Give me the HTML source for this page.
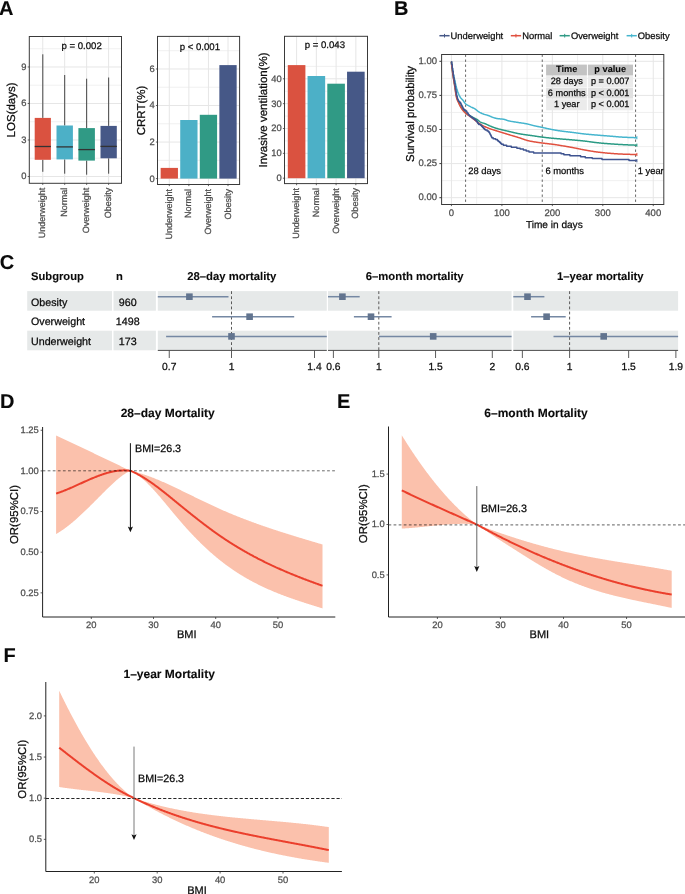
<!DOCTYPE html>
<html><head><meta charset="utf-8"><title>Figure</title>
<style>
html,body{margin:0;padding:0;background:#fff;}
body{width:685px;height:894px;overflow:hidden;}
svg{display:block;font-family:"Liberation Sans", sans-serif;will-change:transform;text-rendering:geometricPrecision;}
</style></head>
<body>
<svg width="685" height="894" viewBox="0 0 685 894">
<rect width="685" height="894" fill="#fff"/>
<text x="-1.00" y="14.70" font-size="20" text-anchor="start" font-weight="bold" fill="#0a0a0a" stroke="#0a0a0a" stroke-width="0.1">A</text>
<text x="394.00" y="14.80" font-size="20" text-anchor="start" font-weight="bold" fill="#0a0a0a" stroke="#0a0a0a" stroke-width="0.1">B</text>
<text x="-0.30" y="269.00" font-size="20" text-anchor="start" font-weight="bold" fill="#0a0a0a" stroke="#0a0a0a" stroke-width="0.1">C</text>
<text x="0.00" y="407.80" font-size="20" text-anchor="start" font-weight="bold" fill="#0a0a0a" stroke="#0a0a0a" stroke-width="0.1">D</text>
<text x="337.00" y="407.80" font-size="20" text-anchor="start" font-weight="bold" fill="#0a0a0a" stroke="#0a0a0a" stroke-width="0.1">E</text>
<text x="3.60" y="662.10" font-size="20" text-anchor="start" font-weight="bold" fill="#0a0a0a" stroke="#0a0a0a" stroke-width="0.1">F</text>
<line x1="29.30" y1="158.25" x2="121.50" y2="158.25" stroke="#E6E6E6" stroke-width="0.6"/>
<line x1="29.30" y1="121.73" x2="121.50" y2="121.73" stroke="#E6E6E6" stroke-width="0.6"/>
<line x1="29.30" y1="85.22" x2="121.50" y2="85.22" stroke="#E6E6E6" stroke-width="0.6"/>
<line x1="29.30" y1="48.72" x2="121.50" y2="48.72" stroke="#E6E6E6" stroke-width="0.6"/>
<line x1="29.30" y1="176.50" x2="121.50" y2="176.50" stroke="#E6E6E6" stroke-width="1.0"/>
<line x1="29.30" y1="139.99" x2="121.50" y2="139.99" stroke="#E6E6E6" stroke-width="1.0"/>
<line x1="29.30" y1="103.48" x2="121.50" y2="103.48" stroke="#E6E6E6" stroke-width="1.0"/>
<line x1="29.30" y1="66.97" x2="121.50" y2="66.97" stroke="#E6E6E6" stroke-width="1.0"/>
<line x1="42.75" y1="36.50" x2="42.75" y2="183.30" stroke="#E6E6E6" stroke-width="1.0"/>
<line x1="64.70" y1="36.50" x2="64.70" y2="183.30" stroke="#E6E6E6" stroke-width="1.0"/>
<line x1="86.65" y1="36.50" x2="86.65" y2="183.30" stroke="#E6E6E6" stroke-width="1.0"/>
<line x1="108.60" y1="36.50" x2="108.60" y2="183.30" stroke="#E6E6E6" stroke-width="1.0"/>
<line x1="42.80" y1="54.30" x2="42.80" y2="117.90" stroke="#333" stroke-width="0.9"/>
<line x1="42.80" y1="159.80" x2="42.80" y2="171.80" stroke="#333" stroke-width="0.9"/>
<rect x="34.70" y="117.90" width="16.20" height="41.90" fill="#DA5240"/>
<line x1="34.70" y1="146.50" x2="50.90" y2="146.50" stroke="#333" stroke-width="1.3"/>
<line x1="64.70" y1="75.00" x2="64.70" y2="125.50" stroke="#333" stroke-width="0.9"/>
<line x1="64.70" y1="159.40" x2="64.70" y2="173.70" stroke="#333" stroke-width="0.9"/>
<rect x="56.50" y="125.50" width="16.40" height="33.90" fill="#4CB0C7"/>
<line x1="56.50" y1="146.90" x2="72.90" y2="146.90" stroke="#333" stroke-width="1.3"/>
<line x1="86.65" y1="78.70" x2="86.65" y2="128.10" stroke="#333" stroke-width="0.9"/>
<line x1="86.65" y1="160.60" x2="86.65" y2="174.70" stroke="#333" stroke-width="0.9"/>
<rect x="78.40" y="128.10" width="16.50" height="32.50" fill="#309A85"/>
<line x1="78.40" y1="149.60" x2="94.90" y2="149.60" stroke="#333" stroke-width="1.3"/>
<line x1="108.65" y1="77.50" x2="108.65" y2="125.90" stroke="#333" stroke-width="0.9"/>
<line x1="108.65" y1="158.30" x2="108.65" y2="173.70" stroke="#333" stroke-width="0.9"/>
<rect x="100.50" y="125.90" width="16.30" height="32.40" fill="#465887"/>
<line x1="100.50" y1="146.40" x2="116.80" y2="146.40" stroke="#333" stroke-width="1.3"/>
<rect x="29.30" y="36.50" width="92.20" height="146.80" fill="none" stroke="#3A3A3A" stroke-width="1"/>
<line x1="27.70" y1="176.50" x2="29.30" y2="176.50" stroke="#3A3A3A" stroke-width="0.8"/>
<text x="26.50" y="179.40" font-size="9.4" text-anchor="end" fill="#4D4D4D" stroke="#4D4D4D" stroke-width="0.25">0</text>
<line x1="27.70" y1="139.99" x2="29.30" y2="139.99" stroke="#3A3A3A" stroke-width="0.8"/>
<text x="26.50" y="142.89" font-size="9.4" text-anchor="end" fill="#4D4D4D" stroke="#4D4D4D" stroke-width="0.25">3</text>
<line x1="27.70" y1="103.48" x2="29.30" y2="103.48" stroke="#3A3A3A" stroke-width="0.8"/>
<text x="26.50" y="106.38" font-size="9.4" text-anchor="end" fill="#4D4D4D" stroke="#4D4D4D" stroke-width="0.25">6</text>
<line x1="27.70" y1="66.97" x2="29.30" y2="66.97" stroke="#3A3A3A" stroke-width="0.8"/>
<text x="26.50" y="69.87" font-size="9.4" text-anchor="end" fill="#4D4D4D" stroke="#4D4D4D" stroke-width="0.25">9</text>
<line x1="42.75" y1="183.30" x2="42.75" y2="184.90" stroke="#3A3A3A" stroke-width="0.8"/>
<line x1="64.70" y1="183.30" x2="64.70" y2="184.90" stroke="#3A3A3A" stroke-width="0.8"/>
<line x1="86.65" y1="183.30" x2="86.65" y2="184.90" stroke="#3A3A3A" stroke-width="0.8"/>
<line x1="108.60" y1="183.30" x2="108.60" y2="184.90" stroke="#3A3A3A" stroke-width="0.8"/>
<text x="45.35" y="187.80" font-size="9.0" text-anchor="end" fill="#4D4D4D" stroke="#4D4D4D" stroke-width="0.25" transform="rotate(-90 45.35 187.80)">Underweight</text>
<text x="67.30" y="187.80" font-size="9.0" text-anchor="end" fill="#4D4D4D" stroke="#4D4D4D" stroke-width="0.25" transform="rotate(-90 67.30 187.80)">Normal</text>
<text x="89.25" y="187.80" font-size="9.0" text-anchor="end" fill="#4D4D4D" stroke="#4D4D4D" stroke-width="0.25" transform="rotate(-90 89.25 187.80)">Overweight</text>
<text x="111.20" y="187.80" font-size="9.0" text-anchor="end" fill="#4D4D4D" stroke="#4D4D4D" stroke-width="0.25" transform="rotate(-90 111.20 187.80)">Obesity</text>
<text x="81.60" y="49.30" font-size="9.6" text-anchor="middle" fill="#0d0d0d" stroke="#0d0d0d" stroke-width="0.25">p = 0.002</text>
<text x="15.50" y="109.90" font-size="11.5" text-anchor="middle" fill="#0d0d0d" stroke="#0d0d0d" stroke-width="0.25" transform="rotate(-90 15.50 109.90)">LOS(days)</text>
<line x1="157.50" y1="160.33" x2="239.60" y2="160.33" stroke="#E6E6E6" stroke-width="0.6"/>
<line x1="157.50" y1="123.79" x2="239.60" y2="123.79" stroke="#E6E6E6" stroke-width="0.6"/>
<line x1="157.50" y1="87.25" x2="239.60" y2="87.25" stroke="#E6E6E6" stroke-width="0.6"/>
<line x1="157.50" y1="50.71" x2="239.60" y2="50.71" stroke="#E6E6E6" stroke-width="0.6"/>
<line x1="157.50" y1="178.60" x2="239.60" y2="178.60" stroke="#E6E6E6" stroke-width="1.0"/>
<line x1="157.50" y1="142.06" x2="239.60" y2="142.06" stroke="#E6E6E6" stroke-width="1.0"/>
<line x1="157.50" y1="105.52" x2="239.60" y2="105.52" stroke="#E6E6E6" stroke-width="1.0"/>
<line x1="157.50" y1="68.98" x2="239.60" y2="68.98" stroke="#E6E6E6" stroke-width="1.0"/>
<line x1="169.30" y1="36.40" x2="169.30" y2="184.50" stroke="#E6E6E6" stroke-width="1.0"/>
<line x1="188.87" y1="36.40" x2="188.87" y2="184.50" stroke="#E6E6E6" stroke-width="1.0"/>
<line x1="208.44" y1="36.40" x2="208.44" y2="184.50" stroke="#E6E6E6" stroke-width="1.0"/>
<line x1="228.01" y1="36.40" x2="228.01" y2="184.50" stroke="#E6E6E6" stroke-width="1.0"/>
<rect x="160.65" y="167.90" width="17.30" height="10.70" fill="#DA5240"/>
<rect x="180.22" y="120.00" width="17.30" height="58.60" fill="#4CB0C7"/>
<rect x="199.79" y="114.80" width="17.30" height="63.80" fill="#309A85"/>
<rect x="219.36" y="65.10" width="17.30" height="113.50" fill="#465887"/>
<rect x="157.50" y="36.40" width="82.10" height="148.10" fill="none" stroke="#3A3A3A" stroke-width="1"/>
<line x1="155.90" y1="178.60" x2="157.50" y2="178.60" stroke="#3A3A3A" stroke-width="0.8"/>
<text x="154.70" y="181.50" font-size="9.4" text-anchor="end" fill="#4D4D4D" stroke="#4D4D4D" stroke-width="0.25">0</text>
<line x1="155.90" y1="142.06" x2="157.50" y2="142.06" stroke="#3A3A3A" stroke-width="0.8"/>
<text x="154.70" y="144.96" font-size="9.4" text-anchor="end" fill="#4D4D4D" stroke="#4D4D4D" stroke-width="0.25">2</text>
<line x1="155.90" y1="105.52" x2="157.50" y2="105.52" stroke="#3A3A3A" stroke-width="0.8"/>
<text x="154.70" y="108.42" font-size="9.4" text-anchor="end" fill="#4D4D4D" stroke="#4D4D4D" stroke-width="0.25">4</text>
<line x1="155.90" y1="68.98" x2="157.50" y2="68.98" stroke="#3A3A3A" stroke-width="0.8"/>
<text x="154.70" y="71.88" font-size="9.4" text-anchor="end" fill="#4D4D4D" stroke="#4D4D4D" stroke-width="0.25">6</text>
<line x1="169.30" y1="184.50" x2="169.30" y2="186.10" stroke="#3A3A3A" stroke-width="0.8"/>
<line x1="188.87" y1="184.50" x2="188.87" y2="186.10" stroke="#3A3A3A" stroke-width="0.8"/>
<line x1="208.44" y1="184.50" x2="208.44" y2="186.10" stroke="#3A3A3A" stroke-width="0.8"/>
<line x1="228.01" y1="184.50" x2="228.01" y2="186.10" stroke="#3A3A3A" stroke-width="0.8"/>
<text x="171.90" y="189.00" font-size="9.0" text-anchor="end" fill="#4D4D4D" stroke="#4D4D4D" stroke-width="0.25" transform="rotate(-90 171.90 189.00)">Underweight</text>
<text x="191.47" y="189.00" font-size="9.0" text-anchor="end" fill="#4D4D4D" stroke="#4D4D4D" stroke-width="0.25" transform="rotate(-90 191.47 189.00)">Normal</text>
<text x="211.04" y="189.00" font-size="9.0" text-anchor="end" fill="#4D4D4D" stroke="#4D4D4D" stroke-width="0.25" transform="rotate(-90 211.04 189.00)">Overweight</text>
<text x="230.61" y="189.00" font-size="9.0" text-anchor="end" fill="#4D4D4D" stroke="#4D4D4D" stroke-width="0.25" transform="rotate(-90 230.61 189.00)">Obesity</text>
<text x="199.90" y="49.60" font-size="9.6" text-anchor="middle" fill="#0d0d0d" stroke="#0d0d0d" stroke-width="0.25">p &lt; 0.001</text>
<text x="145.00" y="110.45" font-size="11.5" text-anchor="middle" fill="#0d0d0d" stroke="#0d0d0d" stroke-width="0.25" transform="rotate(-90 145.00 110.45)">CRRT(%)</text>
<line x1="284.50" y1="165.77" x2="367.50" y2="165.77" stroke="#E6E6E6" stroke-width="0.6"/>
<line x1="284.50" y1="140.92" x2="367.50" y2="140.92" stroke="#E6E6E6" stroke-width="0.6"/>
<line x1="284.50" y1="116.07" x2="367.50" y2="116.07" stroke="#E6E6E6" stroke-width="0.6"/>
<line x1="284.50" y1="91.22" x2="367.50" y2="91.22" stroke="#E6E6E6" stroke-width="0.6"/>
<line x1="284.50" y1="66.38" x2="367.50" y2="66.38" stroke="#E6E6E6" stroke-width="0.6"/>
<line x1="284.50" y1="178.20" x2="367.50" y2="178.20" stroke="#E6E6E6" stroke-width="1.0"/>
<line x1="284.50" y1="153.35" x2="367.50" y2="153.35" stroke="#E6E6E6" stroke-width="1.0"/>
<line x1="284.50" y1="128.50" x2="367.50" y2="128.50" stroke="#E6E6E6" stroke-width="1.0"/>
<line x1="284.50" y1="103.65" x2="367.50" y2="103.65" stroke="#E6E6E6" stroke-width="1.0"/>
<line x1="284.50" y1="78.80" x2="367.50" y2="78.80" stroke="#E6E6E6" stroke-width="1.0"/>
<line x1="296.60" y1="36.30" x2="296.60" y2="183.60" stroke="#E6E6E6" stroke-width="1.0"/>
<line x1="316.35" y1="36.30" x2="316.35" y2="183.60" stroke="#E6E6E6" stroke-width="1.0"/>
<line x1="336.10" y1="36.30" x2="336.10" y2="183.60" stroke="#E6E6E6" stroke-width="1.0"/>
<line x1="355.85" y1="36.30" x2="355.85" y2="183.60" stroke="#E6E6E6" stroke-width="1.0"/>
<rect x="287.80" y="65.10" width="17.60" height="113.10" fill="#DA5240"/>
<rect x="307.55" y="76.00" width="17.60" height="102.20" fill="#4CB0C7"/>
<rect x="327.30" y="83.70" width="17.60" height="94.50" fill="#309A85"/>
<rect x="347.05" y="71.70" width="17.60" height="106.50" fill="#465887"/>
<rect x="284.50" y="36.30" width="83.00" height="147.30" fill="none" stroke="#3A3A3A" stroke-width="1"/>
<line x1="282.90" y1="178.20" x2="284.50" y2="178.20" stroke="#3A3A3A" stroke-width="0.8"/>
<text x="281.70" y="181.10" font-size="9.4" text-anchor="end" fill="#4D4D4D" stroke="#4D4D4D" stroke-width="0.25">0</text>
<line x1="282.90" y1="153.35" x2="284.50" y2="153.35" stroke="#3A3A3A" stroke-width="0.8"/>
<text x="281.70" y="156.25" font-size="9.4" text-anchor="end" fill="#4D4D4D" stroke="#4D4D4D" stroke-width="0.25">10</text>
<line x1="282.90" y1="128.50" x2="284.50" y2="128.50" stroke="#3A3A3A" stroke-width="0.8"/>
<text x="281.70" y="131.40" font-size="9.4" text-anchor="end" fill="#4D4D4D" stroke="#4D4D4D" stroke-width="0.25">20</text>
<line x1="282.90" y1="103.65" x2="284.50" y2="103.65" stroke="#3A3A3A" stroke-width="0.8"/>
<text x="281.70" y="106.55" font-size="9.4" text-anchor="end" fill="#4D4D4D" stroke="#4D4D4D" stroke-width="0.25">30</text>
<line x1="282.90" y1="78.80" x2="284.50" y2="78.80" stroke="#3A3A3A" stroke-width="0.8"/>
<text x="281.70" y="81.70" font-size="9.4" text-anchor="end" fill="#4D4D4D" stroke="#4D4D4D" stroke-width="0.25">40</text>
<line x1="296.60" y1="183.60" x2="296.60" y2="185.20" stroke="#3A3A3A" stroke-width="0.8"/>
<line x1="316.35" y1="183.60" x2="316.35" y2="185.20" stroke="#3A3A3A" stroke-width="0.8"/>
<line x1="336.10" y1="183.60" x2="336.10" y2="185.20" stroke="#3A3A3A" stroke-width="0.8"/>
<line x1="355.85" y1="183.60" x2="355.85" y2="185.20" stroke="#3A3A3A" stroke-width="0.8"/>
<text x="299.20" y="188.10" font-size="9.0" text-anchor="end" fill="#4D4D4D" stroke="#4D4D4D" stroke-width="0.25" transform="rotate(-90 299.20 188.10)">Underweight</text>
<text x="318.95" y="188.10" font-size="9.0" text-anchor="end" fill="#4D4D4D" stroke="#4D4D4D" stroke-width="0.25" transform="rotate(-90 318.95 188.10)">Normal</text>
<text x="338.70" y="188.10" font-size="9.0" text-anchor="end" fill="#4D4D4D" stroke="#4D4D4D" stroke-width="0.25" transform="rotate(-90 338.70 188.10)">Overweight</text>
<text x="358.45" y="188.10" font-size="9.0" text-anchor="end" fill="#4D4D4D" stroke="#4D4D4D" stroke-width="0.25" transform="rotate(-90 358.45 188.10)">Obesity</text>
<text x="324.90" y="48.40" font-size="9.6" text-anchor="middle" fill="#0d0d0d" stroke="#0d0d0d" stroke-width="0.25">p = 0.043</text>
<text x="267.00" y="109.95" font-size="11.5" text-anchor="middle" fill="#0d0d0d" stroke="#0d0d0d" stroke-width="0.25" transform="rotate(-90 267.00 109.95)">Invasive ventilation(%)</text>
<line x1="441.60" y1="180.65" x2="663.80" y2="180.65" stroke="#E6E6E6" stroke-width="0.6"/>
<line x1="441.60" y1="146.55" x2="663.80" y2="146.55" stroke="#E6E6E6" stroke-width="0.6"/>
<line x1="441.60" y1="112.45" x2="663.80" y2="112.45" stroke="#E6E6E6" stroke-width="0.6"/>
<line x1="441.60" y1="78.35" x2="663.80" y2="78.35" stroke="#E6E6E6" stroke-width="0.6"/>
<line x1="476.68" y1="54.50" x2="476.68" y2="204.50" stroke="#E6E6E6" stroke-width="0.6"/>
<line x1="527.12" y1="54.50" x2="527.12" y2="204.50" stroke="#E6E6E6" stroke-width="0.6"/>
<line x1="577.57" y1="54.50" x2="577.57" y2="204.50" stroke="#E6E6E6" stroke-width="0.6"/>
<line x1="628.02" y1="54.50" x2="628.02" y2="204.50" stroke="#E6E6E6" stroke-width="0.6"/>
<line x1="441.60" y1="197.70" x2="663.80" y2="197.70" stroke="#E6E6E6" stroke-width="1.0"/>
<line x1="441.60" y1="163.60" x2="663.80" y2="163.60" stroke="#E6E6E6" stroke-width="1.0"/>
<line x1="441.60" y1="129.50" x2="663.80" y2="129.50" stroke="#E6E6E6" stroke-width="1.0"/>
<line x1="441.60" y1="95.40" x2="663.80" y2="95.40" stroke="#E6E6E6" stroke-width="1.0"/>
<line x1="441.60" y1="61.30" x2="663.80" y2="61.30" stroke="#E6E6E6" stroke-width="1.0"/>
<line x1="451.45" y1="54.50" x2="451.45" y2="204.50" stroke="#E6E6E6" stroke-width="1.0"/>
<line x1="501.90" y1="54.50" x2="501.90" y2="204.50" stroke="#E6E6E6" stroke-width="1.0"/>
<line x1="552.35" y1="54.50" x2="552.35" y2="204.50" stroke="#E6E6E6" stroke-width="1.0"/>
<line x1="602.80" y1="54.50" x2="602.80" y2="204.50" stroke="#E6E6E6" stroke-width="1.0"/>
<line x1="653.25" y1="54.50" x2="653.25" y2="204.50" stroke="#E6E6E6" stroke-width="1.0"/>
<line x1="465.58" y1="54.50" x2="465.58" y2="204.50" stroke="#555" stroke-width="0.9" stroke-dasharray="2.4,2.6"/>
<line x1="542.26" y1="54.50" x2="542.26" y2="204.50" stroke="#555" stroke-width="0.9" stroke-dasharray="2.4,2.6"/>
<line x1="635.59" y1="54.50" x2="635.59" y2="204.50" stroke="#555" stroke-width="0.9" stroke-dasharray="2.4,2.6"/>
<rect x="546.10" y="64.60" width="40.80" height="10.90" fill="#C3C3C3"/>
<rect x="587.90" y="64.60" width="45.10" height="10.90" fill="#C3C3C3"/>
<rect x="546.10" y="76.10" width="40.80" height="10.90" fill="#EBEBEB"/>
<rect x="587.90" y="76.10" width="45.10" height="10.90" fill="#EBEBEB"/>
<rect x="546.10" y="87.60" width="40.80" height="11.00" fill="#E1E1E1"/>
<rect x="587.90" y="87.60" width="45.10" height="11.00" fill="#E1E1E1"/>
<rect x="546.10" y="99.20" width="40.80" height="11.10" fill="#EBEBEB"/>
<rect x="587.90" y="99.20" width="45.10" height="11.10" fill="#EBEBEB"/>
<text x="566.75" y="72.30" font-size="9.2" text-anchor="middle" font-weight="bold" fill="#0a0a0a" stroke="#0a0a0a" stroke-width="0.1">Time</text>
<text x="610.20" y="72.30" font-size="9.2" text-anchor="middle" font-weight="bold" fill="#0a0a0a" stroke="#0a0a0a" stroke-width="0.1">p value</text>
<text x="566.75" y="83.80" font-size="9.2" text-anchor="middle" fill="#0a0a0a" stroke="#0a0a0a" stroke-width="0.25">28 days</text>
<text x="610.20" y="83.80" font-size="9.2" text-anchor="middle" fill="#0a0a0a" stroke="#0a0a0a" stroke-width="0.25">p = 0.007</text>
<text x="566.75" y="95.60" font-size="9.2" text-anchor="middle" fill="#0a0a0a" stroke="#0a0a0a" stroke-width="0.25">6 months</text>
<text x="610.20" y="95.60" font-size="9.2" text-anchor="middle" fill="#0a0a0a" stroke="#0a0a0a" stroke-width="0.25">p &lt; 0.001</text>
<text x="566.75" y="107.30" font-size="9.2" text-anchor="middle" fill="#0a0a0a" stroke="#0a0a0a" stroke-width="0.25">1 year</text>
<text x="610.20" y="107.30" font-size="9.2" text-anchor="middle" fill="#0a0a0a" stroke="#0a0a0a" stroke-width="0.25">p &lt; 0.001</text>
<text x="468.20" y="174.30" font-size="9.4" text-anchor="start" fill="#0a0a0a" stroke="#0a0a0a" stroke-width="0.25">28 days</text>
<text x="545.40" y="174.30" font-size="9.4" text-anchor="start" fill="#0a0a0a" stroke="#0a0a0a" stroke-width="0.25">6 months</text>
<text x="637.70" y="174.30" font-size="9.4" text-anchor="start" fill="#0a0a0a" stroke="#0a0a0a" stroke-width="0.25">1 year</text>
<path d="M451.30,61.70 L451.77,64.90 L452.23,67.91 L452.70,70.69 L453.16,73.21 L453.63,75.48 L454.09,77.55 L454.56,79.53 L455.02,81.53 L455.49,83.58 L455.95,85.58 L456.42,87.44 L456.88,89.07 L457.35,90.58 L457.81,91.96 L458.28,93.20 L458.74,94.30 L459.21,95.32 L459.67,96.23 L460.14,97.01 L460.60,97.66 L461.07,98.22 L461.53,98.72 L462.00,99.20 L462.46,99.69 L462.93,100.24 L463.39,100.86 L463.86,101.54 L464.32,102.24 L464.79,102.89 L465.25,103.46 L465.72,103.90 L466.19,104.27 L466.65,104.60 L467.12,104.90 L467.58,105.18 L468.05,105.43 L468.51,105.68 L468.98,105.92 L469.44,106.16 L469.91,106.40 L470.37,106.64 L470.84,106.88 L471.30,107.10 L471.77,107.31 L472.23,107.52 L472.70,107.73 L473.16,107.95 L473.63,108.18 L474.09,108.42 L474.56,108.68 L475.02,108.96 L475.49,109.29 L475.95,109.63 L476.42,110.00 L476.88,110.37 L477.35,110.74 L477.81,111.09 L478.28,111.43 L478.74,111.74 L479.21,112.02 L479.67,112.29 L480.14,112.55 L480.61,112.80 L481.07,113.03 L481.54,113.26 L482.00,113.48 L482.47,113.69 L482.93,113.88 L483.40,114.06 L483.86,114.23 L484.33,114.37 L484.79,114.51 L485.26,114.64 L485.72,114.76 L486.19,114.88 L486.65,115.00 L487.12,115.13 L487.58,115.27 L488.05,115.42 L488.51,115.58 L488.98,115.76 L489.44,115.95 L489.91,116.15 L490.37,116.35 L490.84,116.54 L491.30,116.74 L491.77,116.93 L492.23,117.10 L492.70,117.27 L493.16,117.44 L493.63,117.60 L494.09,117.77 L494.56,117.93 L495.03,118.08 L495.49,118.22 L495.96,118.34 L496.42,118.45 L496.89,118.53 L497.35,118.60 L497.82,118.67 L498.28,118.72 L498.75,118.77 L499.21,118.81 L499.68,118.86 L500.14,118.90 L500.61,118.93 L501.07,118.98 L501.54,119.02 L502.00,119.07 L502.47,119.12 L502.93,119.18 L503.40,119.25 L503.86,119.33 L504.33,119.44 L504.79,119.57 L505.26,119.73 L505.72,119.89 L506.19,120.07 L506.65,120.24 L507.12,120.41 L507.58,120.57 L508.05,120.71 L508.52,120.83 L508.98,120.93 L509.45,121.03 L509.91,121.12 L510.38,121.21 L510.84,121.30 L511.31,121.38 L511.77,121.47 L512.24,121.54 L512.70,121.62 L513.17,121.69 L513.63,121.77 L514.10,121.84 L514.56,121.91 L515.03,121.98 L515.49,122.05 L515.96,122.12 L516.42,122.19 L516.89,122.27 L517.35,122.34 L517.82,122.42 L518.28,122.50 L518.75,122.57 L519.21,122.64 L519.68,122.71 L520.14,122.78 L520.61,122.85 L521.07,122.92 L521.54,122.99 L522.00,123.06 L522.47,123.13 L522.94,123.20 L523.40,123.27 L523.87,123.34 L524.33,123.42 L524.80,123.50 L525.26,123.58 L525.73,123.66 L526.19,123.74 L526.66,123.83 L527.12,123.92 L527.59,124.02 L528.05,124.13 L528.52,124.24 L528.98,124.36 L529.45,124.49 L529.91,124.61 L530.38,124.74 L530.84,124.87 L531.31,125.00 L531.77,125.13 L532.24,125.25 L532.70,125.38 L533.17,125.50 L533.63,125.61 L534.10,125.72 L534.56,125.83 L535.03,125.93 L535.49,126.03 L535.96,126.13 L536.42,126.23 L536.89,126.32 L537.36,126.42 L537.82,126.51 L538.29,126.60 L538.75,126.70 L539.22,126.79 L539.68,126.88 L540.15,126.98 L540.61,127.07 L541.08,127.17 L541.54,127.26 L542.01,127.36 L542.47,127.46 L542.94,127.56 L543.40,127.66 L543.87,127.77 L544.33,127.87 L544.80,127.98 L545.26,128.08 L545.73,128.19 L546.19,128.29 L546.66,128.40 L547.12,128.50 L547.59,128.61 L548.05,128.71 L548.52,128.81 L548.98,128.91 L549.45,129.01 L549.91,129.10 L550.38,129.20 L550.84,129.29 L551.31,129.38 L551.78,129.47 L552.24,129.56 L552.71,129.65 L553.17,129.74 L553.64,129.82 L554.10,129.91 L554.57,130.00 L555.03,130.08 L555.50,130.17 L555.96,130.25 L556.43,130.33 L556.89,130.41 L557.36,130.49 L557.82,130.56 L558.29,130.64 L558.75,130.71 L559.22,130.78 L559.68,130.85 L560.15,130.92 L560.61,130.99 L561.08,131.05 L561.54,131.11 L562.01,131.18 L562.47,131.24 L562.94,131.29 L563.40,131.35 L563.87,131.41 L564.33,131.46 L564.80,131.52 L565.26,131.57 L565.73,131.63 L566.20,131.68 L566.66,131.73 L567.13,131.79 L567.59,131.84 L568.06,131.89 L568.52,131.94 L568.99,132.00 L569.45,132.05 L569.92,132.10 L570.38,132.16 L570.85,132.21 L571.31,132.27 L571.78,132.32 L572.24,132.38 L572.71,132.44 L573.17,132.50 L573.64,132.56 L574.10,132.62 L574.57,132.68 L575.03,132.74 L575.50,132.81 L575.96,132.87 L576.43,132.93 L576.89,133.00 L577.36,133.06 L577.82,133.12 L578.29,133.19 L578.75,133.25 L579.22,133.31 L579.68,133.38 L580.15,133.44 L580.62,133.50 L581.08,133.56 L581.55,133.62 L582.01,133.68 L582.48,133.74 L582.94,133.79 L583.41,133.85 L583.87,133.90 L584.34,133.95 L584.80,134.00 L585.27,134.05 L585.73,134.10 L586.20,134.14 L586.66,134.19 L587.13,134.23 L587.59,134.28 L588.06,134.32 L588.52,134.36 L588.99,134.41 L589.45,134.45 L589.92,134.49 L590.38,134.53 L590.85,134.57 L591.31,134.61 L591.78,134.65 L592.24,134.69 L592.71,134.73 L593.17,134.77 L593.64,134.80 L594.11,134.84 L594.57,134.88 L595.04,134.92 L595.50,134.96 L595.97,135.00 L596.43,135.04 L596.90,135.07 L597.36,135.11 L597.83,135.15 L598.29,135.19 L598.76,135.23 L599.22,135.27 L599.69,135.31 L600.15,135.34 L600.62,135.38 L601.08,135.42 L601.55,135.46 L602.01,135.50 L602.48,135.53 L602.94,135.57 L603.41,135.61 L603.87,135.64 L604.34,135.68 L604.80,135.72 L605.27,135.75 L605.73,135.79 L606.20,135.83 L606.66,135.87 L607.13,135.90 L607.59,135.94 L608.06,135.98 L608.53,136.01 L608.99,136.05 L609.46,136.09 L609.92,136.13 L610.39,136.16 L610.85,136.20 L611.32,136.24 L611.78,136.28 L612.25,136.33 L612.71,136.37 L613.18,136.41 L613.64,136.45 L614.11,136.49 L614.57,136.53 L615.04,136.57 L615.50,136.61 L615.97,136.66 L616.43,136.70 L616.90,136.74 L617.36,136.77 L617.83,136.81 L618.29,136.85 L618.76,136.89 L619.22,136.92 L619.69,136.95 L620.15,136.99 L620.62,137.02 L621.08,137.05 L621.55,137.07 L622.01,137.10 L622.48,137.13 L622.95,137.15 L623.41,137.18 L623.88,137.20 L624.34,137.22 L624.81,137.25 L625.27,137.27 L625.74,137.30 L626.20,137.32 L626.67,137.34 L627.13,137.36 L627.60,137.38 L628.06,137.41 L628.53,137.43 L628.99,137.45 L629.46,137.47 L629.92,137.49 L630.39,137.51 L630.85,137.52 L631.32,137.54 L631.78,137.56 L632.25,137.58 L632.71,137.59 L633.18,137.61 L633.64,137.62 L634.11,137.63 L634.57,137.65 L635.04,137.66 L635.50,137.67 L635.97,137.68 L636.43,137.69 L636.90,137.70" fill="none" stroke="#45B5CE" stroke-width="1.5" stroke-linejoin="round"/>
<line x1="636.90" y1="136.10" x2="636.90" y2="139.30" stroke="#45B5CE" stroke-width="1.0"/>
<path d="M451.30,61.70 L451.77,65.67 L452.23,69.41 L452.70,72.88 L453.16,76.06 L453.63,78.92 L454.09,81.61 L454.56,84.34 L455.02,87.32 L455.49,90.42 L455.95,93.33 L456.42,95.75 L456.88,97.49 L457.35,98.90 L457.81,100.10 L458.28,101.21 L458.74,102.30 L459.21,103.34 L459.67,104.33 L460.14,105.26 L460.60,106.14 L461.07,106.95 L461.53,107.71 L462.00,108.42 L462.46,109.10 L462.93,109.74 L463.39,110.33 L463.86,110.87 L464.32,111.37 L464.79,111.85 L465.25,112.30 L465.72,112.73 L466.19,113.14 L466.65,113.53 L467.12,113.89 L467.58,114.23 L468.05,114.55 L468.51,114.86 L468.98,115.15 L469.44,115.43 L469.91,115.70 L470.37,115.96 L470.84,116.22 L471.30,116.47 L471.77,116.73 L472.23,116.98 L472.70,117.21 L473.16,117.44 L473.63,117.66 L474.09,117.87 L474.56,118.09 L475.02,118.32 L475.49,118.55 L475.95,118.80 L476.42,119.07 L476.88,119.38 L477.35,119.71 L477.81,120.07 L478.28,120.45 L478.74,120.82 L479.21,121.18 L479.67,121.52 L480.14,121.83 L480.61,122.10 L481.07,122.32 L481.54,122.52 L482.00,122.69 L482.47,122.85 L482.93,123.01 L483.40,123.15 L483.86,123.30 L484.33,123.45 L484.79,123.61 L485.26,123.78 L485.72,123.97 L486.19,124.17 L486.65,124.38 L487.12,124.60 L487.58,124.82 L488.05,125.05 L488.51,125.27 L488.98,125.49 L489.44,125.71 L489.91,125.92 L490.37,126.12 L490.84,126.32 L491.30,126.50 L491.77,126.68 L492.23,126.86 L492.70,127.04 L493.16,127.21 L493.63,127.38 L494.09,127.55 L494.56,127.71 L495.03,127.87 L495.49,128.02 L495.96,128.17 L496.42,128.32 L496.89,128.46 L497.35,128.59 L497.82,128.72 L498.28,128.85 L498.75,128.98 L499.21,129.11 L499.68,129.23 L500.14,129.35 L500.61,129.47 L501.07,129.58 L501.54,129.70 L502.00,129.81 L502.47,129.92 L502.93,130.03 L503.40,130.14 L503.86,130.25 L504.33,130.36 L504.79,130.47 L505.26,130.57 L505.72,130.68 L506.19,130.79 L506.65,130.89 L507.12,131.00 L507.58,131.11 L508.05,131.22 L508.52,131.33 L508.98,131.44 L509.45,131.55 L509.91,131.66 L510.38,131.77 L510.84,131.88 L511.31,132.00 L511.77,132.11 L512.24,132.22 L512.70,132.33 L513.17,132.44 L513.63,132.55 L514.10,132.66 L514.56,132.77 L515.03,132.88 L515.49,132.98 L515.96,133.09 L516.42,133.19 L516.89,133.29 L517.35,133.39 L517.82,133.48 L518.28,133.58 L518.75,133.67 L519.21,133.76 L519.68,133.84 L520.14,133.93 L520.61,134.01 L521.07,134.08 L521.54,134.16 L522.00,134.23 L522.47,134.31 L522.94,134.38 L523.40,134.45 L523.87,134.52 L524.33,134.58 L524.80,134.65 L525.26,134.72 L525.73,134.78 L526.19,134.84 L526.66,134.91 L527.12,134.97 L527.59,135.03 L528.05,135.10 L528.52,135.16 L528.98,135.22 L529.45,135.29 L529.91,135.35 L530.38,135.41 L530.84,135.48 L531.31,135.54 L531.77,135.61 L532.24,135.68 L532.70,135.75 L533.17,135.81 L533.63,135.88 L534.10,135.95 L534.56,136.02 L535.03,136.09 L535.49,136.16 L535.96,136.23 L536.42,136.30 L536.89,136.37 L537.36,136.44 L537.82,136.50 L538.29,136.57 L538.75,136.64 L539.22,136.70 L539.68,136.77 L540.15,136.83 L540.61,136.89 L541.08,136.96 L541.54,137.02 L542.01,137.08 L542.47,137.13 L542.94,137.19 L543.40,137.25 L543.87,137.30 L544.33,137.36 L544.80,137.41 L545.26,137.47 L545.73,137.52 L546.19,137.58 L546.66,137.63 L547.12,137.68 L547.59,137.74 L548.05,137.79 L548.52,137.84 L548.98,137.89 L549.45,137.94 L549.91,137.99 L550.38,138.04 L550.84,138.09 L551.31,138.13 L551.78,138.18 L552.24,138.23 L552.71,138.27 L553.17,138.32 L553.64,138.36 L554.10,138.41 L554.57,138.45 L555.03,138.49 L555.50,138.54 L555.96,138.58 L556.43,138.62 L556.89,138.65 L557.36,138.69 L557.82,138.73 L558.29,138.76 L558.75,138.80 L559.22,138.84 L559.68,138.87 L560.15,138.91 L560.61,138.95 L561.08,138.99 L561.54,139.02 L562.01,139.06 L562.47,139.10 L562.94,139.13 L563.40,139.17 L563.87,139.21 L564.33,139.24 L564.80,139.28 L565.26,139.32 L565.73,139.35 L566.20,139.39 L566.66,139.43 L567.13,139.46 L567.59,139.50 L568.06,139.54 L568.52,139.57 L568.99,139.61 L569.45,139.65 L569.92,139.69 L570.38,139.73 L570.85,139.77 L571.31,139.81 L571.78,139.85 L572.24,139.89 L572.71,139.93 L573.17,139.97 L573.64,140.01 L574.10,140.05 L574.57,140.09 L575.03,140.13 L575.50,140.18 L575.96,140.22 L576.43,140.26 L576.89,140.30 L577.36,140.35 L577.82,140.39 L578.29,140.44 L578.75,140.48 L579.22,140.52 L579.68,140.57 L580.15,140.62 L580.62,140.66 L581.08,140.71 L581.55,140.76 L582.01,140.80 L582.48,140.85 L582.94,140.90 L583.41,140.95 L583.87,141.00 L584.34,141.05 L584.80,141.10 L585.27,141.15 L585.73,141.21 L586.20,141.26 L586.66,141.32 L587.13,141.38 L587.59,141.44 L588.06,141.50 L588.52,141.57 L588.99,141.63 L589.45,141.69 L589.92,141.76 L590.38,141.82 L590.85,141.89 L591.31,141.95 L591.78,142.02 L592.24,142.08 L592.71,142.15 L593.17,142.21 L593.64,142.27 L594.11,142.33 L594.57,142.39 L595.04,142.45 L595.50,142.51 L595.97,142.56 L596.43,142.62 L596.90,142.67 L597.36,142.72 L597.83,142.77 L598.29,142.81 L598.76,142.86 L599.22,142.91 L599.69,142.95 L600.15,143.00 L600.62,143.04 L601.08,143.09 L601.55,143.13 L602.01,143.17 L602.48,143.21 L602.94,143.26 L603.41,143.30 L603.87,143.34 L604.34,143.38 L604.80,143.42 L605.27,143.46 L605.73,143.50 L606.20,143.53 L606.66,143.57 L607.13,143.61 L607.59,143.65 L608.06,143.68 L608.53,143.72 L608.99,143.75 L609.46,143.79 L609.92,143.82 L610.39,143.86 L610.85,143.89 L611.32,143.93 L611.78,143.96 L612.25,143.99 L612.71,144.03 L613.18,144.06 L613.64,144.09 L614.11,144.12 L614.57,144.16 L615.04,144.19 L615.50,144.22 L615.97,144.25 L616.43,144.28 L616.90,144.31 L617.36,144.34 L617.83,144.37 L618.29,144.40 L618.76,144.42 L619.22,144.45 L619.69,144.48 L620.15,144.50 L620.62,144.53 L621.08,144.55 L621.55,144.58 L622.01,144.60 L622.48,144.62 L622.95,144.65 L623.41,144.67 L623.88,144.69 L624.34,144.71 L624.81,144.74 L625.27,144.76 L625.74,144.78 L626.20,144.80 L626.67,144.82 L627.13,144.84 L627.60,144.86 L628.06,144.88 L628.53,144.90 L628.99,144.92 L629.46,144.94 L629.92,144.96 L630.39,144.98 L630.85,145.00 L631.32,145.02 L631.78,145.03 L632.25,145.05 L632.71,145.07 L633.18,145.08 L633.64,145.10 L634.11,145.12 L634.57,145.13 L635.04,145.15 L635.50,145.16 L635.97,145.17 L636.43,145.19 L636.90,145.20" fill="none" stroke="#2A9A84" stroke-width="1.5" stroke-linejoin="round"/>
<line x1="636.90" y1="143.60" x2="636.90" y2="146.80" stroke="#2A9A84" stroke-width="1.0"/>
<path d="M451.30,61.70 L451.77,65.80 L452.23,69.67 L452.70,73.28 L453.16,76.62 L453.63,79.64 L454.09,82.49 L454.56,85.36 L455.02,88.51 L455.49,91.78 L455.95,94.82 L456.42,97.27 L456.88,98.92 L457.35,100.18 L457.81,101.24 L458.28,102.23 L458.74,103.25 L459.21,104.25 L459.67,105.21 L460.14,106.12 L460.60,106.97 L461.07,107.75 L461.53,108.47 L462.00,109.15 L462.46,109.79 L462.93,110.39 L463.39,110.95 L463.86,111.46 L464.32,111.95 L464.79,112.40 L465.25,112.83 L465.72,113.24 L466.19,113.63 L466.65,114.01 L467.12,114.38 L467.58,114.74 L468.05,115.08 L468.51,115.41 L468.98,115.73 L469.44,116.03 L469.91,116.33 L470.37,116.64 L470.84,116.95 L471.30,117.27 L471.77,117.60 L472.23,117.95 L472.70,118.32 L473.16,118.71 L473.63,119.10 L474.09,119.49 L474.56,119.89 L475.02,120.28 L475.49,120.67 L475.95,121.04 L476.42,121.39 L476.88,121.73 L477.35,122.08 L477.81,122.41 L478.28,122.74 L478.74,123.07 L479.21,123.38 L479.67,123.69 L480.14,123.99 L480.61,124.28 L481.07,124.56 L481.54,124.83 L482.00,125.10 L482.47,125.36 L482.93,125.62 L483.40,125.86 L483.86,126.10 L484.33,126.34 L484.79,126.56 L485.26,126.78 L485.72,126.99 L486.19,127.20 L486.65,127.40 L487.12,127.59 L487.58,127.78 L488.05,127.97 L488.51,128.15 L488.98,128.33 L489.44,128.51 L489.91,128.68 L490.37,128.85 L490.84,129.01 L491.30,129.18 L491.77,129.34 L492.23,129.49 L492.70,129.65 L493.16,129.80 L493.63,129.94 L494.09,130.09 L494.56,130.23 L495.03,130.38 L495.49,130.52 L495.96,130.67 L496.42,130.81 L496.89,130.96 L497.35,131.10 L497.82,131.25 L498.28,131.40 L498.75,131.54 L499.21,131.69 L499.68,131.83 L500.14,131.97 L500.61,132.12 L501.07,132.26 L501.54,132.41 L502.00,132.55 L502.47,132.69 L502.93,132.83 L503.40,132.98 L503.86,133.12 L504.33,133.26 L504.79,133.40 L505.26,133.54 L505.72,133.69 L506.19,133.83 L506.65,133.97 L507.12,134.11 L507.58,134.25 L508.05,134.39 L508.52,134.54 L508.98,134.68 L509.45,134.82 L509.91,134.96 L510.38,135.10 L510.84,135.24 L511.31,135.37 L511.77,135.51 L512.24,135.65 L512.70,135.79 L513.17,135.93 L513.63,136.07 L514.10,136.20 L514.56,136.34 L515.03,136.48 L515.49,136.62 L515.96,136.76 L516.42,136.90 L516.89,137.04 L517.35,137.18 L517.82,137.32 L518.28,137.47 L518.75,137.61 L519.21,137.75 L519.68,137.90 L520.14,138.05 L520.61,138.20 L521.07,138.36 L521.54,138.52 L522.00,138.68 L522.47,138.85 L522.94,139.02 L523.40,139.19 L523.87,139.36 L524.33,139.52 L524.80,139.69 L525.26,139.85 L525.73,140.00 L526.19,140.15 L526.66,140.29 L527.12,140.43 L527.59,140.55 L528.05,140.67 L528.52,140.77 L528.98,140.87 L529.45,140.97 L529.91,141.07 L530.38,141.16 L530.84,141.25 L531.31,141.34 L531.77,141.42 L532.24,141.51 L532.70,141.59 L533.17,141.67 L533.63,141.75 L534.10,141.82 L534.56,141.90 L535.03,141.97 L535.49,142.04 L535.96,142.11 L536.42,142.18 L536.89,142.25 L537.36,142.32 L537.82,142.39 L538.29,142.45 L538.75,142.52 L539.22,142.58 L539.68,142.65 L540.15,142.71 L540.61,142.78 L541.08,142.84 L541.54,142.91 L542.01,142.97 L542.47,143.04 L542.94,143.10 L543.40,143.16 L543.87,143.22 L544.33,143.28 L544.80,143.34 L545.26,143.40 L545.73,143.46 L546.19,143.51 L546.66,143.57 L547.12,143.62 L547.59,143.67 L548.05,143.73 L548.52,143.78 L548.98,143.83 L549.45,143.89 L549.91,143.94 L550.38,144.00 L550.84,144.05 L551.31,144.11 L551.78,144.16 L552.24,144.22 L552.71,144.28 L553.17,144.34 L553.64,144.40 L554.10,144.46 L554.57,144.52 L555.03,144.59 L555.50,144.66 L555.96,144.73 L556.43,144.80 L556.89,144.88 L557.36,144.95 L557.82,145.03 L558.29,145.11 L558.75,145.19 L559.22,145.27 L559.68,145.35 L560.15,145.42 L560.61,145.50 L561.08,145.58 L561.54,145.65 L562.01,145.73 L562.47,145.81 L562.94,145.88 L563.40,145.96 L563.87,146.04 L564.33,146.11 L564.80,146.19 L565.26,146.27 L565.73,146.34 L566.20,146.42 L566.66,146.50 L567.13,146.58 L567.59,146.65 L568.06,146.73 L568.52,146.81 L568.99,146.89 L569.45,146.97 L569.92,147.05 L570.38,147.14 L570.85,147.22 L571.31,147.30 L571.78,147.39 L572.24,147.47 L572.71,147.56 L573.17,147.64 L573.64,147.73 L574.10,147.83 L574.57,147.92 L575.03,148.01 L575.50,148.11 L575.96,148.20 L576.43,148.30 L576.89,148.40 L577.36,148.50 L577.82,148.59 L578.29,148.69 L578.75,148.79 L579.22,148.89 L579.68,148.99 L580.15,149.08 L580.62,149.18 L581.08,149.28 L581.55,149.37 L582.01,149.47 L582.48,149.56 L582.94,149.65 L583.41,149.74 L583.87,149.83 L584.34,149.92 L584.80,150.00 L585.27,150.08 L585.73,150.17 L586.20,150.25 L586.66,150.33 L587.13,150.42 L587.59,150.50 L588.06,150.58 L588.52,150.66 L588.99,150.74 L589.45,150.82 L589.92,150.90 L590.38,150.98 L590.85,151.06 L591.31,151.13 L591.78,151.21 L592.24,151.28 L592.71,151.36 L593.17,151.43 L593.64,151.50 L594.11,151.57 L594.57,151.64 L595.04,151.71 L595.50,151.77 L595.97,151.84 L596.43,151.90 L596.90,151.96 L597.36,152.02 L597.83,152.08 L598.29,152.14 L598.76,152.19 L599.22,152.25 L599.69,152.31 L600.15,152.36 L600.62,152.42 L601.08,152.47 L601.55,152.52 L602.01,152.57 L602.48,152.62 L602.94,152.67 L603.41,152.72 L603.87,152.77 L604.34,152.82 L604.80,152.87 L605.27,152.91 L605.73,152.96 L606.20,153.00 L606.66,153.05 L607.13,153.09 L607.59,153.13 L608.06,153.17 L608.53,153.21 L608.99,153.25 L609.46,153.29 L609.92,153.33 L610.39,153.36 L610.85,153.40 L611.32,153.44 L611.78,153.47 L612.25,153.51 L612.71,153.54 L613.18,153.58 L613.64,153.61 L614.11,153.65 L614.57,153.68 L615.04,153.71 L615.50,153.74 L615.97,153.78 L616.43,153.81 L616.90,153.84 L617.36,153.86 L617.83,153.89 L618.29,153.92 L618.76,153.95 L619.22,153.97 L619.69,154.00 L620.15,154.02 L620.62,154.04 L621.08,154.06 L621.55,154.08 L622.01,154.10 L622.48,154.12 L622.95,154.14 L623.41,154.15 L623.88,154.17 L624.34,154.19 L624.81,154.21 L625.27,154.22 L625.74,154.24 L626.20,154.26 L626.67,154.27 L627.13,154.29 L627.60,154.30 L628.06,154.32 L628.53,154.33 L628.99,154.35 L629.46,154.36 L629.92,154.37 L630.39,154.39 L630.85,154.40 L631.32,154.41 L631.78,154.42 L632.25,154.43 L632.71,154.44 L633.18,154.45 L633.64,154.46 L634.11,154.47 L634.57,154.48 L635.04,154.48 L635.50,154.49 L635.97,154.49 L636.43,154.50 L636.90,154.50" fill="none" stroke="#E0503F" stroke-width="1.5" stroke-linejoin="round"/>
<line x1="636.90" y1="152.90" x2="636.90" y2="156.10" stroke="#E0503F" stroke-width="1.0"/>
<path d="M451.30,61.70 L451.77,61.70 L451.77,64.55 L452.23,64.55 L452.23,68.35 L452.70,68.35 L452.70,71.20 L453.16,71.20 L453.16,75.00 L453.63,75.00 L453.63,77.85 L454.09,77.85 L454.09,80.70 L454.56,80.70 L454.56,83.55 L455.02,83.55 L455.02,86.40 L455.49,86.40 L455.49,89.25 L455.95,89.25 L455.95,92.10 L456.42,92.10 L456.42,94.95 L456.88,94.95 L456.88,96.85 L457.35,96.85 L457.35,98.75 L457.81,98.75 L457.81,99.70 L458.28,99.70 L458.28,100.65 L458.74,100.65 L458.74,101.60 L459.67,101.60 L459.67,102.55 L460.60,102.55 L460.60,103.50 L461.07,103.50 L461.07,104.45 L461.53,104.45 L461.53,105.40 L462.00,105.40 L462.00,106.35 L462.46,106.35 L462.46,107.30 L462.93,107.30 L462.93,108.25 L463.39,108.25 L463.39,109.20 L464.32,109.20 L464.32,110.15 L465.72,110.15 L465.72,111.10 L466.65,111.10 L466.65,112.05 L467.12,112.05 L467.12,113.00 L468.05,113.00 L468.05,113.95 L468.51,113.95 L468.51,114.90 L469.44,114.90 L469.44,115.85 L470.37,115.85 L470.37,116.80 L471.77,116.80 L471.77,117.75 L473.16,117.75 L473.16,118.70 L474.56,118.70 L474.56,119.65 L475.95,119.65 L475.95,120.60 L476.42,120.60 L476.42,121.55 L477.35,121.55 L477.35,122.50 L477.81,122.50 L477.81,123.45 L478.74,123.45 L478.74,124.40 L480.61,124.40 L480.61,125.35 L481.54,125.35 L481.54,126.30 L482.47,126.30 L482.47,127.25 L483.40,127.25 L483.40,128.20 L484.33,128.20 L484.33,129.15 L485.26,129.15 L485.26,130.10 L487.12,130.10 L487.12,131.05 L488.51,131.05 L488.51,132.00 L489.44,132.00 L489.44,132.95 L489.91,132.95 L489.91,133.90 L490.37,133.90 L490.37,134.85 L490.84,134.85 L490.84,135.80 L491.30,135.80 L491.30,136.75 L491.77,136.75 L491.77,137.70 L493.16,137.70 L493.16,138.65 L495.49,138.65 L495.49,139.60 L497.35,139.60 L497.35,140.55 L498.28,140.55 L498.28,141.50 L499.68,141.50 L499.68,142.45 L500.61,142.45 L500.61,143.40 L501.54,143.40 L501.54,144.35 L503.40,144.35 L503.40,145.30 L506.65,145.30 L506.65,146.25 L511.31,146.25 L511.31,147.20 L516.89,147.20 L516.89,148.15 L520.14,148.15 L520.14,149.10 L523.40,149.10 L523.40,150.05 L526.19,150.05 L526.19,151.00 L528.98,151.00 L528.98,151.95 L533.63,151.95 L533.63,152.90 L561.08,152.90 L561.08,153.85 L563.87,153.85 L563.87,154.80 L569.92,154.80 L569.92,155.75 L580.62,155.75 L580.62,156.70 L585.27,156.70 L585.27,157.65 L592.24,157.65 L592.24,158.60 L602.01,158.60 L602.01,159.55 L628.99,159.55 L628.99,160.50 L636.90,160.50" fill="none" stroke="#3F5490" stroke-width="1.5" stroke-linejoin="round"/>
<line x1="636.90" y1="159.10" x2="636.90" y2="162.30" stroke="#3F5490" stroke-width="1.0"/>
<rect x="441.60" y="54.50" width="222.20" height="150.00" fill="none" stroke="#3A3A3A" stroke-width="1"/>
<line x1="439.40" y1="197.70" x2="441.60" y2="197.70" stroke="#3A3A3A" stroke-width="1.0"/>
<text x="437.00" y="200.20" font-size="9.5" text-anchor="end" fill="#4D4D4D" stroke="#4D4D4D" stroke-width="0.25">0.00</text>
<line x1="439.40" y1="163.60" x2="441.60" y2="163.60" stroke="#3A3A3A" stroke-width="1.0"/>
<text x="437.00" y="166.10" font-size="9.5" text-anchor="end" fill="#4D4D4D" stroke="#4D4D4D" stroke-width="0.25">0.25</text>
<line x1="439.40" y1="129.50" x2="441.60" y2="129.50" stroke="#3A3A3A" stroke-width="1.0"/>
<text x="437.00" y="132.00" font-size="9.5" text-anchor="end" fill="#4D4D4D" stroke="#4D4D4D" stroke-width="0.25">0.50</text>
<line x1="439.40" y1="95.40" x2="441.60" y2="95.40" stroke="#3A3A3A" stroke-width="1.0"/>
<text x="437.00" y="97.90" font-size="9.5" text-anchor="end" fill="#4D4D4D" stroke="#4D4D4D" stroke-width="0.25">0.75</text>
<line x1="439.40" y1="61.30" x2="441.60" y2="61.30" stroke="#3A3A3A" stroke-width="1.0"/>
<text x="437.00" y="63.80" font-size="9.5" text-anchor="end" fill="#4D4D4D" stroke="#4D4D4D" stroke-width="0.25">1.00</text>
<line x1="451.45" y1="204.50" x2="451.45" y2="206.10" stroke="#3A3A3A" stroke-width="0.8"/>
<text x="451.45" y="215.60" font-size="9.5" text-anchor="middle" fill="#4D4D4D" stroke="#4D4D4D" stroke-width="0.25">0</text>
<line x1="501.90" y1="204.50" x2="501.90" y2="206.10" stroke="#3A3A3A" stroke-width="0.8"/>
<text x="501.90" y="215.60" font-size="9.5" text-anchor="middle" fill="#4D4D4D" stroke="#4D4D4D" stroke-width="0.25">100</text>
<line x1="552.35" y1="204.50" x2="552.35" y2="206.10" stroke="#3A3A3A" stroke-width="0.8"/>
<text x="552.35" y="215.60" font-size="9.5" text-anchor="middle" fill="#4D4D4D" stroke="#4D4D4D" stroke-width="0.25">200</text>
<line x1="602.80" y1="204.50" x2="602.80" y2="206.10" stroke="#3A3A3A" stroke-width="0.8"/>
<text x="602.80" y="215.60" font-size="9.5" text-anchor="middle" fill="#4D4D4D" stroke="#4D4D4D" stroke-width="0.25">300</text>
<line x1="653.25" y1="204.50" x2="653.25" y2="206.10" stroke="#3A3A3A" stroke-width="0.8"/>
<text x="653.25" y="215.60" font-size="9.5" text-anchor="middle" fill="#4D4D4D" stroke="#4D4D4D" stroke-width="0.25">400</text>
<text x="554.30" y="228.00" font-size="10.1" text-anchor="middle" fill="#0d0d0d" stroke="#0d0d0d" stroke-width="0.25">Time in days</text>
<text x="414.30" y="113.90" font-size="11.45" text-anchor="middle" fill="#0d0d0d" stroke="#0d0d0d" stroke-width="0.25" transform="rotate(-90 414.30 113.90)">Survival probability</text>
<line x1="439.40" y1="35.70" x2="449.60" y2="35.70" stroke="#465887" stroke-width="1.5"/>
<line x1="444.50" y1="33.90" x2="444.50" y2="37.50" stroke="#465887" stroke-width="1.0"/>
<text x="450.60" y="38.50" font-size="9.4" text-anchor="start" fill="#0d0d0d" stroke="#0d0d0d" stroke-width="0.25">Underweight</text>
<line x1="510.80" y1="35.70" x2="521.10" y2="35.70" stroke="#E0503F" stroke-width="1.5"/>
<line x1="515.95" y1="33.90" x2="515.95" y2="37.50" stroke="#E0503F" stroke-width="1.0"/>
<text x="522.20" y="38.50" font-size="9.4" text-anchor="start" fill="#0d0d0d" stroke="#0d0d0d" stroke-width="0.25">Normal</text>
<line x1="559.60" y1="35.70" x2="569.80" y2="35.70" stroke="#309A85" stroke-width="1.5"/>
<line x1="564.70" y1="33.90" x2="564.70" y2="37.50" stroke="#309A85" stroke-width="1.0"/>
<text x="570.90" y="38.50" font-size="9.4" text-anchor="start" fill="#0d0d0d" stroke="#0d0d0d" stroke-width="0.25">Overweight</text>
<line x1="626.60" y1="35.70" x2="636.80" y2="35.70" stroke="#45B5CE" stroke-width="1.5"/>
<line x1="631.70" y1="33.90" x2="631.70" y2="37.50" stroke="#45B5CE" stroke-width="1.0"/>
<text x="637.80" y="38.50" font-size="9.4" text-anchor="start" fill="#0d0d0d" stroke="#0d0d0d" stroke-width="0.25">Obesity</text>
<text x="31.00" y="280.30" font-size="11.2" text-anchor="start" font-weight="bold" fill="#0a0a0a" stroke="#0a0a0a" stroke-width="0.1">Subgroup</text>
<text x="116.00" y="280.30" font-size="11.2" text-anchor="start" font-weight="bold" fill="#0a0a0a" stroke="#0a0a0a" stroke-width="0.1">n</text>
<text x="231.80" y="280.00" font-size="11.3" text-anchor="middle" font-weight="bold" fill="#0a0a0a" stroke="#0a0a0a" stroke-width="0.1">28–day mortality</text>
<text x="414.70" y="280.00" font-size="11.3" text-anchor="middle" font-weight="bold" fill="#0a0a0a" stroke="#0a0a0a" stroke-width="0.1">6–month mortality</text>
<text x="600.30" y="280.00" font-size="11.3" text-anchor="middle" font-weight="bold" fill="#0a0a0a" stroke="#0a0a0a" stroke-width="0.1">1–year mortality</text>
<rect x="27.20" y="291.10" width="84.80" height="19.60" fill="#E6E9E9"/>
<rect x="113.50" y="291.10" width="42.40" height="19.60" fill="#E6E9E9"/>
<rect x="157.80" y="291.10" width="169.00" height="19.60" fill="#E6E9E9"/>
<rect x="328.00" y="291.10" width="183.60" height="19.60" fill="#E6E9E9"/>
<rect x="513.30" y="291.10" width="164.80" height="19.60" fill="#E6E9E9"/>
<rect x="27.20" y="330.70" width="84.80" height="19.60" fill="#E6E9E9"/>
<rect x="113.50" y="330.70" width="42.40" height="19.60" fill="#E6E9E9"/>
<rect x="157.80" y="330.70" width="169.00" height="19.60" fill="#E6E9E9"/>
<rect x="328.00" y="330.70" width="183.60" height="19.60" fill="#E6E9E9"/>
<rect x="513.30" y="330.70" width="164.80" height="19.60" fill="#E6E9E9"/>
<text x="31.00" y="305.90" font-size="10.7" text-anchor="start" fill="#0a0a0a" stroke="#0a0a0a" stroke-width="0.25">Obesity</text>
<text x="127.70" y="305.90" font-size="10.7" text-anchor="middle" fill="#0a0a0a" stroke="#0a0a0a" stroke-width="0.25">960</text>
<text x="31.00" y="325.30" font-size="10.7" text-anchor="start" fill="#0a0a0a" stroke="#0a0a0a" stroke-width="0.25">Overweight</text>
<text x="127.70" y="325.30" font-size="10.7" text-anchor="middle" fill="#0a0a0a" stroke="#0a0a0a" stroke-width="0.25">1498</text>
<text x="31.00" y="344.70" font-size="10.7" text-anchor="start" fill="#0a0a0a" stroke="#0a0a0a" stroke-width="0.25">Underweight</text>
<text x="127.70" y="344.70" font-size="10.7" text-anchor="middle" fill="#0a0a0a" stroke="#0a0a0a" stroke-width="0.25">173</text>
<line x1="231.50" y1="291.20" x2="231.50" y2="350.30" stroke="#5a5a5a" stroke-width="1.0" stroke-dasharray="2.8,2.3"/>
<line x1="157.80" y1="296.70" x2="228.50" y2="296.70" stroke="#7588A3" stroke-width="1.5"/>
<rect x="186.10" y="293.40" width="6.60" height="6.60" fill="#62748F"/>
<line x1="212.10" y1="316.70" x2="294.20" y2="316.70" stroke="#7588A3" stroke-width="1.5"/>
<rect x="246.30" y="313.40" width="6.60" height="6.60" fill="#62748F"/>
<line x1="166.10" y1="336.40" x2="326.80" y2="336.40" stroke="#7588A3" stroke-width="1.5"/>
<rect x="228.20" y="333.10" width="6.60" height="6.60" fill="#62748F"/>
<line x1="157.80" y1="350.40" x2="326.80" y2="350.40" stroke="#4a4a4a" stroke-width="1.0"/>
<line x1="169.25" y1="350.40" x2="169.25" y2="358.00" stroke="#4a4a4a" stroke-width="0.9"/>
<text x="169.25" y="369.60" font-size="10.3" text-anchor="middle" fill="#0d0d0d" stroke="#0d0d0d" stroke-width="0.25">0.7</text>
<line x1="231.50" y1="350.40" x2="231.50" y2="358.00" stroke="#4a4a4a" stroke-width="0.9"/>
<text x="231.50" y="369.60" font-size="10.3" text-anchor="middle" fill="#0d0d0d" stroke="#0d0d0d" stroke-width="0.25">1</text>
<line x1="314.50" y1="350.40" x2="314.50" y2="358.00" stroke="#4a4a4a" stroke-width="0.9"/>
<text x="314.50" y="369.60" font-size="10.3" text-anchor="middle" fill="#0d0d0d" stroke="#0d0d0d" stroke-width="0.25">1.4</text>
<line x1="378.80" y1="291.20" x2="378.80" y2="350.30" stroke="#5a5a5a" stroke-width="1.0" stroke-dasharray="2.8,2.3"/>
<line x1="328.00" y1="296.70" x2="359.70" y2="296.70" stroke="#7588A3" stroke-width="1.5"/>
<rect x="339.10" y="293.40" width="6.60" height="6.60" fill="#62748F"/>
<line x1="353.90" y1="316.70" x2="391.60" y2="316.70" stroke="#7588A3" stroke-width="1.5"/>
<rect x="367.70" y="313.40" width="6.60" height="6.60" fill="#62748F"/>
<line x1="379.00" y1="336.40" x2="511.60" y2="336.40" stroke="#7588A3" stroke-width="1.5"/>
<rect x="429.90" y="333.10" width="6.60" height="6.60" fill="#62748F"/>
<line x1="328.00" y1="350.40" x2="511.60" y2="350.40" stroke="#4a4a4a" stroke-width="1.0"/>
<line x1="333.40" y1="350.40" x2="333.40" y2="358.00" stroke="#4a4a4a" stroke-width="0.9"/>
<text x="333.40" y="369.60" font-size="10.3" text-anchor="middle" fill="#0d0d0d" stroke="#0d0d0d" stroke-width="0.25">0.6</text>
<line x1="378.80" y1="350.40" x2="378.80" y2="358.00" stroke="#4a4a4a" stroke-width="0.9"/>
<text x="378.80" y="369.60" font-size="10.3" text-anchor="middle" fill="#0d0d0d" stroke="#0d0d0d" stroke-width="0.25">1</text>
<line x1="435.55" y1="350.40" x2="435.55" y2="358.00" stroke="#4a4a4a" stroke-width="0.9"/>
<text x="435.55" y="369.60" font-size="10.3" text-anchor="middle" fill="#0d0d0d" stroke="#0d0d0d" stroke-width="0.25">1.5</text>
<line x1="492.30" y1="350.40" x2="492.30" y2="358.00" stroke="#4a4a4a" stroke-width="0.9"/>
<text x="492.30" y="369.60" font-size="10.3" text-anchor="middle" fill="#0d0d0d" stroke="#0d0d0d" stroke-width="0.25">2</text>
<line x1="569.60" y1="291.20" x2="569.60" y2="350.30" stroke="#5a5a5a" stroke-width="1.0" stroke-dasharray="2.8,2.3"/>
<line x1="513.30" y1="296.70" x2="544.40" y2="296.70" stroke="#7588A3" stroke-width="1.5"/>
<rect x="524.20" y="293.40" width="6.60" height="6.60" fill="#62748F"/>
<line x1="531.10" y1="316.70" x2="565.70" y2="316.70" stroke="#7588A3" stroke-width="1.5"/>
<rect x="543.30" y="313.40" width="6.60" height="6.60" fill="#62748F"/>
<line x1="553.50" y1="336.40" x2="678.10" y2="336.40" stroke="#7588A3" stroke-width="1.5"/>
<rect x="600.40" y="333.10" width="6.60" height="6.60" fill="#62748F"/>
<line x1="513.30" y1="350.40" x2="678.10" y2="350.40" stroke="#4a4a4a" stroke-width="1.0"/>
<line x1="522.36" y1="350.40" x2="522.36" y2="358.00" stroke="#4a4a4a" stroke-width="0.9"/>
<text x="522.36" y="369.60" font-size="10.3" text-anchor="middle" fill="#0d0d0d" stroke="#0d0d0d" stroke-width="0.25">0.6</text>
<line x1="569.60" y1="350.40" x2="569.60" y2="358.00" stroke="#4a4a4a" stroke-width="0.9"/>
<text x="569.60" y="369.60" font-size="10.3" text-anchor="middle" fill="#0d0d0d" stroke="#0d0d0d" stroke-width="0.25">1</text>
<line x1="628.65" y1="350.40" x2="628.65" y2="358.00" stroke="#4a4a4a" stroke-width="0.9"/>
<text x="628.65" y="369.60" font-size="10.3" text-anchor="middle" fill="#0d0d0d" stroke="#0d0d0d" stroke-width="0.25">1.5</text>
<line x1="675.89" y1="350.40" x2="675.89" y2="358.00" stroke="#4a4a4a" stroke-width="0.9"/>
<text x="675.89" y="369.60" font-size="10.3" text-anchor="middle" fill="#0d0d0d" stroke="#0d0d0d" stroke-width="0.25">1.9</text>
<path d="M56.10,435.50 L56.63,435.75 L57.17,436.00 L57.70,436.25 L58.24,436.50 L58.77,436.75 L59.30,437.00 L59.84,437.25 L60.37,437.50 L60.90,437.75 L61.44,438.00 L61.97,438.25 L62.51,438.50 L63.04,438.75 L63.57,439.00 L64.11,439.25 L64.64,439.50 L65.18,439.76 L65.71,440.01 L66.24,440.26 L66.78,440.51 L67.31,440.76 L67.85,441.01 L68.38,441.26 L68.91,441.51 L69.45,441.76 L69.98,442.01 L70.51,442.27 L71.05,442.52 L71.58,442.77 L72.12,443.02 L72.65,443.27 L73.18,443.52 L73.72,443.78 L74.25,444.03 L74.79,444.28 L75.32,444.53 L75.85,444.78 L76.39,445.03 L76.92,445.29 L77.45,445.54 L77.99,445.79 L78.52,446.04 L79.06,446.29 L79.59,446.55 L80.12,446.80 L80.66,447.05 L81.19,447.30 L81.73,447.56 L82.26,447.81 L82.79,448.06 L83.33,448.31 L83.86,448.57 L84.39,448.82 L84.93,449.07 L85.46,449.32 L86.00,449.58 L86.53,449.83 L87.06,450.08 L87.60,450.34 L88.13,450.59 L88.67,450.84 L89.20,451.10 L89.73,451.35 L90.27,451.60 L90.80,451.86 L91.34,452.11 L91.87,452.36 L92.40,452.62 L92.94,452.87 L93.47,453.12 L94.00,453.38 L94.54,453.63 L95.07,453.88 L95.61,454.14 L96.14,454.39 L96.67,454.65 L97.21,454.90 L97.74,455.15 L98.28,455.41 L98.81,455.66 L99.34,455.92 L99.88,456.17 L100.41,456.43 L100.94,456.68 L101.48,456.93 L102.01,457.19 L102.55,457.44 L103.08,457.70 L103.61,457.95 L104.15,458.21 L104.68,458.46 L105.22,458.72 L105.75,458.97 L106.28,459.23 L106.82,459.48 L107.35,459.74 L107.89,459.99 L108.42,460.25 L108.95,460.50 L109.49,460.76 L110.02,461.01 L110.55,461.27 L111.09,461.52 L111.62,461.78 L112.16,462.04 L112.69,462.29 L113.22,462.55 L113.76,462.80 L114.29,463.06 L114.83,463.31 L115.36,463.57 L115.89,463.83 L116.43,464.08 L116.96,464.34 L117.49,464.59 L118.03,464.85 L118.56,465.11 L119.10,465.36 L119.63,465.62 L120.16,465.87 L120.70,466.13 L121.23,466.39 L121.77,466.64 L122.30,466.90 L122.83,467.16 L123.37,467.41 L123.90,467.67 L124.44,467.93 L124.97,468.18 L125.50,468.44 L126.04,468.70 L126.57,468.95 L127.10,469.21 L127.64,469.47 L128.17,469.73 L128.71,469.98 L129.24,470.24 L129.77,470.50 L130.31,470.76 L130.84,470.88 L131.38,470.99 L131.91,471.11 L132.44,471.23 L132.98,471.36 L133.51,471.49 L134.04,471.62 L134.58,471.75 L135.11,471.88 L135.65,472.02 L136.18,472.16 L136.71,472.31 L137.25,472.45 L137.78,472.60 L138.32,472.75 L138.85,472.91 L139.38,473.06 L139.92,473.22 L140.45,473.38 L140.98,473.54 L141.52,473.71 L142.05,473.87 L142.59,474.04 L143.12,474.22 L143.65,474.39 L144.19,474.57 L144.72,474.75 L145.26,474.93 L145.79,475.11 L146.32,475.29 L146.86,475.48 L147.39,475.67 L147.93,475.86 L148.46,476.05 L148.99,476.25 L149.53,476.44 L150.06,476.64 L150.59,476.84 L151.13,477.04 L151.66,477.25 L152.20,477.45 L152.73,477.66 L153.26,477.87 L153.80,478.08 L154.33,478.29 L154.87,478.51 L155.40,478.72 L155.93,478.94 L156.47,479.16 L157.00,479.38 L157.53,479.60 L158.07,479.82 L158.60,480.05 L159.14,480.27 L159.67,480.50 L160.20,480.73 L160.74,480.96 L161.27,481.19 L161.81,481.42 L162.34,481.65 L162.87,481.89 L163.41,482.12 L163.94,482.36 L164.48,482.60 L165.01,482.84 L165.54,483.08 L166.08,483.32 L166.61,483.56 L167.14,483.80 L167.68,484.05 L168.21,484.29 L168.75,484.54 L169.28,484.79 L169.81,485.03 L170.35,485.28 L170.88,485.53 L171.42,485.78 L171.95,486.03 L172.48,486.28 L173.02,486.53 L173.55,486.79 L174.08,487.04 L174.62,487.29 L175.15,487.55 L175.69,487.80 L176.22,488.06 L176.75,488.31 L177.29,488.57 L177.82,488.82 L178.36,489.08 L178.89,489.34 L179.42,489.60 L179.96,489.85 L180.49,490.11 L181.03,490.37 L181.56,490.63 L182.09,490.89 L182.63,491.15 L183.16,491.41 L183.69,491.67 L184.23,491.93 L184.76,492.19 L185.30,492.45 L185.83,492.71 L186.36,492.97 L186.90,493.23 L187.43,493.49 L187.97,493.75 L188.50,494.01 L189.03,494.27 L189.57,494.53 L190.10,494.79 L190.63,495.05 L191.17,495.32 L191.70,495.58 L192.24,495.84 L192.77,496.10 L193.30,496.36 L193.84,496.62 L194.37,496.88 L194.91,497.14 L195.44,497.40 L195.97,497.66 L196.51,497.92 L197.04,498.18 L197.57,498.44 L198.11,498.70 L198.64,498.96 L199.18,499.22 L199.71,499.48 L200.24,499.74 L200.78,500.00 L201.31,500.26 L201.85,500.51 L202.38,500.77 L202.91,501.03 L203.45,501.29 L203.98,501.54 L204.52,501.80 L205.05,502.06 L205.58,502.31 L206.12,502.57 L206.65,502.82 L207.18,503.07 L207.72,503.33 L208.25,503.58 L208.79,503.83 L209.32,504.09 L209.85,504.34 L210.39,504.59 L210.92,504.84 L211.46,505.09 L211.99,505.34 L212.52,505.59 L213.06,505.84 L213.59,506.08 L214.12,506.33 L214.66,506.58 L215.19,506.82 L215.73,507.07 L216.26,507.31 L216.79,507.55 L217.33,507.80 L217.86,508.04 L218.40,508.28 L218.93,508.52 L219.46,508.76 L220.00,509.00 L220.53,509.24 L221.07,509.47 L221.60,509.71 L222.13,509.95 L222.67,510.18 L223.20,510.41 L223.73,510.65 L224.27,510.88 L224.80,511.11 L225.34,511.34 L225.87,511.57 L226.40,511.80 L226.94,512.03 L227.47,512.26 L228.01,512.48 L228.54,512.71 L229.07,512.93 L229.61,513.16 L230.14,513.38 L230.67,513.60 L231.21,513.83 L231.74,514.05 L232.28,514.27 L232.81,514.49 L233.34,514.71 L233.88,514.93 L234.41,515.14 L234.95,515.36 L235.48,515.58 L236.01,515.79 L236.55,516.01 L237.08,516.22 L237.62,516.44 L238.15,516.65 L238.68,516.86 L239.22,517.07 L239.75,517.28 L240.28,517.49 L240.82,517.70 L241.35,517.91 L241.89,518.12 L242.42,518.33 L242.95,518.53 L243.49,518.74 L244.02,518.95 L244.56,519.15 L245.09,519.36 L245.62,519.56 L246.16,519.76 L246.69,519.96 L247.22,520.17 L247.76,520.37 L248.29,520.57 L248.83,520.77 L249.36,520.97 L249.89,521.17 L250.43,521.36 L250.96,521.56 L251.50,521.76 L252.03,521.96 L252.56,522.15 L253.10,522.35 L253.63,522.54 L254.16,522.74 L254.70,522.93 L255.23,523.12 L255.77,523.31 L256.30,523.51 L256.83,523.70 L257.37,523.89 L257.90,524.08 L258.44,524.27 L258.97,524.46 L259.50,524.65 L260.04,524.84 L260.57,525.02 L261.11,525.21 L261.64,525.40 L262.17,525.58 L262.71,525.77 L263.24,525.95 L263.77,526.14 L264.31,526.32 L264.84,526.51 L265.38,526.69 L265.91,526.87 L266.44,527.06 L266.98,527.24 L267.51,527.42 L268.05,527.60 L268.58,527.78 L269.11,527.96 L269.65,528.14 L270.18,528.32 L270.71,528.50 L271.25,528.68 L271.78,528.86 L272.32,529.03 L272.85,529.21 L273.38,529.39 L273.92,529.56 L274.45,529.74 L274.99,529.91 L275.52,530.09 L276.05,530.26 L276.59,530.44 L277.12,530.61 L277.66,530.79 L278.19,530.96 L278.72,531.13 L279.26,531.31 L279.79,531.48 L280.32,531.65 L280.86,531.82 L281.39,531.99 L281.93,532.16 L282.46,532.33 L282.99,532.50 L283.53,532.67 L284.06,532.84 L284.60,533.01 L285.13,533.18 L285.66,533.35 L286.20,533.52 L286.73,533.69 L287.26,533.85 L287.80,534.02 L288.33,534.19 L288.87,534.36 L289.40,534.52 L289.93,534.69 L290.47,534.85 L291.00,535.02 L291.54,535.18 L292.07,535.35 L292.60,535.52 L293.14,535.68 L293.67,535.84 L294.21,536.01 L294.74,536.17 L295.27,536.34 L295.81,536.50 L296.34,536.66 L296.87,536.83 L297.41,536.99 L297.94,537.15 L298.48,537.31 L299.01,537.48 L299.54,537.64 L300.08,537.80 L300.61,537.96 L301.15,538.12 L301.68,538.28 L302.21,538.45 L302.75,538.61 L303.28,538.77 L303.81,538.93 L304.35,539.09 L304.88,539.25 L305.42,539.41 L305.95,539.57 L306.48,539.73 L307.02,539.89 L307.55,540.05 L308.09,540.21 L308.62,540.37 L309.15,540.53 L309.69,540.68 L310.22,540.84 L310.75,541.00 L311.29,541.16 L311.82,541.32 L312.36,541.48 L312.89,541.64 L313.42,541.80 L313.96,541.95 L314.49,542.11 L315.03,542.27 L315.56,542.43 L316.09,542.59 L316.63,542.74 L317.16,542.90 L317.70,543.06 L318.23,543.22 L318.76,543.38 L319.30,543.53 L319.83,543.69 L320.36,543.85 L320.90,544.01 L321.43,544.16 L321.97,544.32 L322.50,544.48 L322.50,608.44 L321.97,608.28 L321.43,608.11 L320.90,607.94 L320.36,607.78 L319.83,607.61 L319.30,607.45 L318.76,607.28 L318.23,607.11 L317.70,606.95 L317.16,606.78 L316.63,606.61 L316.09,606.45 L315.56,606.28 L315.03,606.11 L314.49,605.94 L313.96,605.78 L313.42,605.61 L312.89,605.44 L312.36,605.27 L311.82,605.11 L311.29,604.94 L310.75,604.77 L310.22,604.60 L309.69,604.43 L309.15,604.26 L308.62,604.09 L308.09,603.92 L307.55,603.75 L307.02,603.58 L306.48,603.41 L305.95,603.24 L305.42,603.07 L304.88,602.89 L304.35,602.72 L303.81,602.55 L303.28,602.37 L302.75,602.20 L302.21,602.02 L301.68,601.85 L301.15,601.67 L300.61,601.50 L300.08,601.32 L299.54,601.14 L299.01,600.96 L298.48,600.79 L297.94,600.61 L297.41,600.43 L296.87,600.25 L296.34,600.07 L295.81,599.88 L295.27,599.70 L294.74,599.52 L294.21,599.34 L293.67,599.15 L293.14,598.97 L292.60,598.78 L292.07,598.59 L291.54,598.41 L291.00,598.22 L290.47,598.03 L289.93,597.84 L289.40,597.65 L288.87,597.46 L288.33,597.26 L287.80,597.07 L287.26,596.88 L286.73,596.68 L286.20,596.49 L285.66,596.29 L285.13,596.09 L284.60,595.89 L284.06,595.69 L283.53,595.49 L282.99,595.29 L282.46,595.09 L281.93,594.88 L281.39,594.68 L280.86,594.47 L280.32,594.26 L279.79,594.06 L279.26,593.85 L278.72,593.64 L278.19,593.42 L277.66,593.21 L277.12,593.00 L276.59,592.78 L276.05,592.57 L275.52,592.35 L274.99,592.13 L274.45,591.91 L273.92,591.69 L273.38,591.47 L272.85,591.24 L272.32,591.02 L271.78,590.79 L271.25,590.56 L270.71,590.33 L270.18,590.10 L269.65,589.87 L269.11,589.64 L268.58,589.40 L268.05,589.17 L267.51,588.93 L266.98,588.69 L266.44,588.45 L265.91,588.21 L265.38,587.96 L264.84,587.72 L264.31,587.47 L263.77,587.22 L263.24,586.97 L262.71,586.72 L262.17,586.47 L261.64,586.22 L261.11,585.96 L260.57,585.70 L260.04,585.44 L259.50,585.18 L258.97,584.92 L258.44,584.66 L257.90,584.39 L257.37,584.12 L256.83,583.85 L256.30,583.58 L255.77,583.31 L255.23,583.03 L254.70,582.76 L254.16,582.48 L253.63,582.20 L253.10,581.92 L252.56,581.63 L252.03,581.35 L251.50,581.06 L250.96,580.77 L250.43,580.48 L249.89,580.19 L249.36,579.89 L248.83,579.59 L248.29,579.30 L247.76,579.00 L247.22,578.69 L246.69,578.39 L246.16,578.08 L245.62,577.77 L245.09,577.46 L244.56,577.15 L244.02,576.83 L243.49,576.51 L242.95,576.20 L242.42,575.87 L241.89,575.55 L241.35,575.22 L240.82,574.90 L240.28,574.57 L239.75,574.23 L239.22,573.90 L238.68,573.56 L238.15,573.22 L237.62,572.88 L237.08,572.54 L236.55,572.19 L236.01,571.84 L235.48,571.49 L234.95,571.14 L234.41,570.79 L233.88,570.43 L233.34,570.07 L232.81,569.71 L232.28,569.34 L231.74,568.97 L231.21,568.61 L230.67,568.23 L230.14,567.86 L229.61,567.48 L229.07,567.10 L228.54,566.72 L228.01,566.34 L227.47,565.95 L226.94,565.56 L226.40,565.17 L225.87,564.77 L225.34,564.38 L224.80,563.98 L224.27,563.57 L223.73,563.17 L223.20,562.76 L222.67,562.35 L222.13,561.94 L221.60,561.52 L221.07,561.11 L220.53,560.68 L220.00,560.26 L219.46,559.83 L218.93,559.40 L218.40,558.97 L217.86,558.54 L217.33,558.10 L216.79,557.66 L216.26,557.22 L215.73,556.77 L215.19,556.32 L214.66,555.87 L214.12,555.41 L213.59,554.96 L213.06,554.50 L212.52,554.03 L211.99,553.57 L211.46,553.10 L210.92,552.63 L210.39,552.16 L209.85,551.68 L209.32,551.20 L208.79,550.72 L208.25,550.23 L207.72,549.75 L207.18,549.26 L206.65,548.77 L206.12,548.27 L205.58,547.77 L205.05,547.27 L204.52,546.77 L203.98,546.26 L203.45,545.75 L202.91,545.24 L202.38,544.73 L201.85,544.21 L201.31,543.69 L200.78,543.17 L200.24,542.65 L199.71,542.12 L199.18,541.59 L198.64,541.06 L198.11,540.53 L197.57,539.99 L197.04,539.45 L196.51,538.91 L195.97,538.36 L195.44,537.81 L194.91,537.26 L194.37,536.71 L193.84,536.16 L193.30,535.60 L192.77,535.04 L192.24,534.48 L191.70,533.91 L191.17,533.35 L190.63,532.78 L190.10,532.20 L189.57,531.63 L189.03,531.05 L188.50,530.47 L187.97,529.89 L187.43,529.30 L186.90,528.72 L186.36,528.13 L185.83,527.53 L185.30,526.94 L184.76,526.34 L184.23,525.74 L183.69,525.14 L183.16,524.54 L182.63,523.93 L182.09,523.32 L181.56,522.71 L181.03,522.10 L180.49,521.48 L179.96,520.86 L179.42,520.24 L178.89,519.62 L178.36,518.99 L177.82,518.37 L177.29,517.74 L176.75,517.10 L176.22,516.47 L175.69,515.83 L175.15,515.20 L174.62,514.56 L174.08,513.92 L173.55,513.27 L173.02,512.63 L172.48,511.99 L171.95,511.34 L171.42,510.70 L170.88,510.05 L170.35,509.40 L169.81,508.76 L169.28,508.11 L168.75,507.46 L168.21,506.82 L167.68,506.17 L167.14,505.52 L166.61,504.88 L166.08,504.24 L165.54,503.59 L165.01,502.95 L164.48,502.31 L163.94,501.67 L163.41,501.03 L162.87,500.40 L162.34,499.76 L161.81,499.13 L161.27,498.50 L160.74,497.87 L160.20,497.25 L159.67,496.62 L159.14,496.00 L158.60,495.39 L158.07,494.77 L157.53,494.16 L157.00,493.56 L156.47,492.95 L155.93,492.35 L155.40,491.75 L154.87,491.16 L154.33,490.57 L153.80,489.99 L153.26,489.41 L152.73,488.84 L152.20,488.26 L151.66,487.70 L151.13,487.14 L150.59,486.58 L150.06,486.03 L149.53,485.49 L148.99,484.95 L148.46,484.42 L147.93,483.89 L147.39,483.37 L146.86,482.85 L146.32,482.34 L145.79,481.84 L145.26,481.34 L144.72,480.85 L144.19,480.37 L143.65,479.90 L143.12,479.43 L142.59,478.97 L142.05,478.52 L141.52,478.07 L140.98,477.63 L140.45,477.20 L139.92,476.78 L139.38,476.37 L138.85,475.96 L138.32,475.57 L137.78,475.18 L137.25,474.80 L136.71,474.43 L136.18,474.07 L135.65,473.72 L135.11,473.38 L134.58,473.05 L134.04,472.73 L133.51,472.41 L132.98,472.11 L132.44,471.82 L131.91,471.54 L131.38,471.27 L130.84,471.01 L130.31,470.82 L129.77,471.07 L129.24,471.33 L128.71,471.60 L128.17,471.88 L127.64,472.17 L127.10,472.47 L126.57,472.78 L126.04,473.11 L125.50,473.44 L124.97,473.78 L124.44,474.13 L123.90,474.48 L123.37,474.85 L122.83,475.23 L122.30,475.61 L121.77,476.00 L121.23,476.40 L120.70,476.81 L120.16,477.22 L119.63,477.64 L119.10,478.07 L118.56,478.51 L118.03,478.95 L117.49,479.40 L116.96,479.85 L116.43,480.31 L115.89,480.77 L115.36,481.24 L114.83,481.72 L114.29,482.20 L113.76,482.68 L113.22,483.17 L112.69,483.67 L112.16,484.17 L111.62,484.67 L111.09,485.17 L110.55,485.68 L110.02,486.19 L109.49,486.71 L108.95,487.22 L108.42,487.74 L107.89,488.26 L107.35,488.79 L106.82,489.31 L106.28,489.84 L105.75,490.37 L105.22,490.90 L104.68,491.43 L104.15,491.96 L103.61,492.49 L103.08,493.03 L102.55,493.56 L102.01,494.09 L101.48,494.63 L100.94,495.17 L100.41,495.70 L99.88,496.24 L99.34,496.77 L98.81,497.31 L98.28,497.85 L97.74,498.39 L97.21,498.92 L96.67,499.46 L96.14,500.00 L95.61,500.53 L95.07,501.07 L94.54,501.60 L94.00,502.14 L93.47,502.67 L92.94,503.21 L92.40,503.74 L91.87,504.27 L91.34,504.80 L90.80,505.33 L90.27,505.86 L89.73,506.39 L89.20,506.92 L88.67,507.44 L88.13,507.97 L87.60,508.49 L87.06,509.01 L86.53,509.53 L86.00,510.05 L85.46,510.57 L84.93,511.08 L84.39,511.59 L83.86,512.10 L83.33,512.61 L82.79,513.12 L82.26,513.62 L81.73,514.12 L81.19,514.62 L80.66,515.12 L80.12,515.62 L79.59,516.11 L79.06,516.60 L78.52,517.08 L77.99,517.57 L77.45,518.05 L76.92,518.52 L76.39,519.00 L75.85,519.47 L75.32,519.94 L74.79,520.40 L74.25,520.86 L73.72,521.32 L73.18,521.78 L72.65,522.23 L72.12,522.67 L71.58,523.12 L71.05,523.56 L70.51,523.99 L69.98,524.42 L69.45,524.85 L68.91,525.28 L68.38,525.69 L67.85,526.11 L67.31,526.52 L66.78,526.93 L66.24,527.33 L65.71,527.72 L65.18,528.12 L64.64,528.50 L64.11,528.89 L63.57,529.26 L63.04,529.64 L62.51,530.00 L61.97,530.36 L61.44,530.72 L60.90,531.07 L60.37,531.42 L59.84,531.76 L59.30,532.10 L58.77,532.43 L58.24,532.75 L57.70,533.07 L57.17,533.38 L56.63,533.69 L56.10,533.99 Z" fill="#FBC1AC"/>
<path d="M56.10,493.58 L56.63,493.41 L57.17,493.23 L57.70,493.05 L58.24,492.87 L58.77,492.68 L59.30,492.50 L59.84,492.31 L60.37,492.11 L60.90,491.92 L61.44,491.72 L61.97,491.52 L62.51,491.31 L63.04,491.11 L63.57,490.90 L64.11,490.69 L64.64,490.48 L65.18,490.26 L65.71,490.05 L66.24,489.83 L66.78,489.61 L67.31,489.39 L67.85,489.16 L68.38,488.94 L68.91,488.71 L69.45,488.48 L69.98,488.25 L70.51,488.02 L71.05,487.79 L71.58,487.56 L72.12,487.32 L72.65,487.08 L73.18,486.85 L73.72,486.61 L74.25,486.37 L74.79,486.13 L75.32,485.89 L75.85,485.65 L76.39,485.41 L76.92,485.17 L77.45,484.93 L77.99,484.68 L78.52,484.44 L79.06,484.20 L79.59,483.96 L80.12,483.71 L80.66,483.47 L81.19,483.23 L81.73,482.98 L82.26,482.74 L82.79,482.50 L83.33,482.26 L83.86,482.02 L84.39,481.77 L84.93,481.53 L85.46,481.29 L86.00,481.06 L86.53,480.82 L87.06,480.58 L87.60,480.34 L88.13,480.11 L88.67,479.87 L89.20,479.64 L89.73,479.41 L90.27,479.18 L90.80,478.95 L91.34,478.72 L91.87,478.49 L92.40,478.27 L92.94,478.05 L93.47,477.82 L94.00,477.60 L94.54,477.39 L95.07,477.17 L95.61,476.96 L96.14,476.74 L96.67,476.53 L97.21,476.33 L97.74,476.12 L98.28,475.92 L98.81,475.72 L99.34,475.52 L99.88,475.33 L100.41,475.13 L100.94,474.94 L101.48,474.76 L102.01,474.57 L102.55,474.39 L103.08,474.21 L103.61,474.04 L104.15,473.87 L104.68,473.70 L105.22,473.53 L105.75,473.37 L106.28,473.21 L106.82,473.05 L107.35,472.90 L107.89,472.75 L108.42,472.61 L108.95,472.47 L109.49,472.33 L110.02,472.20 L110.55,472.07 L111.09,471.95 L111.62,471.83 L112.16,471.71 L112.69,471.60 L113.22,471.49 L113.76,471.39 L114.29,471.29 L114.83,471.19 L115.36,471.11 L115.89,471.02 L116.43,470.94 L116.96,470.87 L117.49,470.80 L118.03,470.73 L118.56,470.67 L119.10,470.61 L119.63,470.57 L120.16,470.52 L120.70,470.48 L121.23,470.45 L121.77,470.42 L122.30,470.40 L122.83,470.38 L123.37,470.37 L123.90,470.36 L124.44,470.36 L124.97,470.37 L125.50,470.38 L126.04,470.40 L126.57,470.43 L127.10,470.46 L127.64,470.49 L128.17,470.54 L128.71,470.59 L129.24,470.64 L129.77,470.71 L130.31,470.78 L130.84,470.95 L131.38,471.18 L131.91,471.41 L132.44,471.65 L132.98,471.89 L133.51,472.13 L134.04,472.38 L134.58,472.64 L135.11,472.90 L135.65,473.16 L136.18,473.43 L136.71,473.70 L137.25,473.98 L137.78,474.26 L138.32,474.55 L138.85,474.84 L139.38,475.13 L139.92,475.43 L140.45,475.73 L140.98,476.04 L141.52,476.35 L142.05,476.66 L142.59,476.98 L143.12,477.30 L143.65,477.63 L144.19,477.96 L144.72,478.29 L145.26,478.62 L145.79,478.96 L146.32,479.31 L146.86,479.65 L147.39,480.00 L147.93,480.35 L148.46,480.71 L148.99,481.07 L149.53,481.43 L150.06,481.79 L150.59,482.16 L151.13,482.53 L151.66,482.90 L152.20,483.28 L152.73,483.66 L153.26,484.04 L153.80,484.42 L154.33,484.81 L154.87,485.20 L155.40,485.59 L155.93,485.98 L156.47,486.38 L157.00,486.77 L157.53,487.17 L158.07,487.57 L158.60,487.98 L159.14,488.38 L159.67,488.79 L160.20,489.20 L160.74,489.61 L161.27,490.03 L161.81,490.44 L162.34,490.86 L162.87,491.27 L163.41,491.69 L163.94,492.11 L164.48,492.54 L165.01,492.96 L165.54,493.38 L166.08,493.81 L166.61,494.24 L167.14,494.66 L167.68,495.09 L168.21,495.52 L168.75,495.95 L169.28,496.39 L169.81,496.82 L170.35,497.25 L170.88,497.68 L171.42,498.12 L171.95,498.55 L172.48,498.99 L173.02,499.43 L173.55,499.86 L174.08,500.30 L174.62,500.73 L175.15,501.17 L175.69,501.61 L176.22,502.05 L176.75,502.48 L177.29,502.92 L177.82,503.36 L178.36,503.79 L178.89,504.23 L179.42,504.67 L179.96,505.10 L180.49,505.54 L181.03,505.97 L181.56,506.41 L182.09,506.84 L182.63,507.28 L183.16,507.71 L183.69,508.15 L184.23,508.58 L184.76,509.01 L185.30,509.45 L185.83,509.88 L186.36,510.31 L186.90,510.74 L187.43,511.18 L187.97,511.61 L188.50,512.04 L189.03,512.47 L189.57,512.89 L190.10,513.32 L190.63,513.75 L191.17,514.18 L191.70,514.60 L192.24,515.03 L192.77,515.46 L193.30,515.88 L193.84,516.30 L194.37,516.73 L194.91,517.15 L195.44,517.57 L195.97,517.99 L196.51,518.41 L197.04,518.83 L197.57,519.25 L198.11,519.67 L198.64,520.09 L199.18,520.50 L199.71,520.92 L200.24,521.33 L200.78,521.75 L201.31,522.16 L201.85,522.57 L202.38,522.98 L202.91,523.39 L203.45,523.80 L203.98,524.20 L204.52,524.61 L205.05,525.02 L205.58,525.42 L206.12,525.82 L206.65,526.23 L207.18,526.63 L207.72,527.03 L208.25,527.42 L208.79,527.82 L209.32,528.22 L209.85,528.61 L210.39,529.01 L210.92,529.40 L211.46,529.79 L211.99,530.18 L212.52,530.57 L213.06,530.96 L213.59,531.34 L214.12,531.73 L214.66,532.11 L215.19,532.49 L215.73,532.87 L216.26,533.25 L216.79,533.63 L217.33,534.00 L217.86,534.38 L218.40,534.75 L218.93,535.12 L219.46,535.49 L220.00,535.86 L220.53,536.22 L221.07,536.59 L221.60,536.95 L222.13,537.32 L222.67,537.68 L223.20,538.04 L223.73,538.39 L224.27,538.75 L224.80,539.10 L225.34,539.46 L225.87,539.81 L226.40,540.16 L226.94,540.51 L227.47,540.86 L228.01,541.20 L228.54,541.55 L229.07,541.89 L229.61,542.24 L230.14,542.58 L230.67,542.92 L231.21,543.25 L231.74,543.59 L232.28,543.93 L232.81,544.26 L233.34,544.59 L233.88,544.92 L234.41,545.25 L234.95,545.58 L235.48,545.91 L236.01,546.23 L236.55,546.56 L237.08,546.88 L237.62,547.20 L238.15,547.52 L238.68,547.84 L239.22,548.16 L239.75,548.48 L240.28,548.79 L240.82,549.11 L241.35,549.42 L241.89,549.73 L242.42,550.04 L242.95,550.35 L243.49,550.66 L244.02,550.97 L244.56,551.27 L245.09,551.58 L245.62,551.88 L246.16,552.18 L246.69,552.48 L247.22,552.78 L247.76,553.08 L248.29,553.38 L248.83,553.67 L249.36,553.97 L249.89,554.26 L250.43,554.55 L250.96,554.84 L251.50,555.13 L252.03,555.42 L252.56,555.71 L253.10,556.00 L253.63,556.28 L254.16,556.57 L254.70,556.85 L255.23,557.13 L255.77,557.41 L256.30,557.69 L256.83,557.97 L257.37,558.25 L257.90,558.53 L258.44,558.80 L258.97,559.08 L259.50,559.35 L260.04,559.62 L260.57,559.89 L261.11,560.16 L261.64,560.43 L262.17,560.70 L262.71,560.97 L263.24,561.23 L263.77,561.50 L264.31,561.76 L264.84,562.03 L265.38,562.29 L265.91,562.55 L266.44,562.81 L266.98,563.07 L267.51,563.33 L268.05,563.58 L268.58,563.84 L269.11,564.09 L269.65,564.35 L270.18,564.60 L270.71,564.85 L271.25,565.10 L271.78,565.36 L272.32,565.60 L272.85,565.85 L273.38,566.10 L273.92,566.35 L274.45,566.59 L274.99,566.84 L275.52,567.08 L276.05,567.33 L276.59,567.57 L277.12,567.81 L277.66,568.05 L278.19,568.29 L278.72,568.53 L279.26,568.77 L279.79,569.00 L280.32,569.24 L280.86,569.48 L281.39,569.71 L281.93,569.94 L282.46,570.18 L282.99,570.41 L283.53,570.64 L284.06,570.87 L284.60,571.10 L285.13,571.33 L285.66,571.56 L286.20,571.79 L286.73,572.01 L287.26,572.24 L287.80,572.46 L288.33,572.69 L288.87,572.91 L289.40,573.14 L289.93,573.36 L290.47,573.58 L291.00,573.80 L291.54,574.02 L292.07,574.24 L292.60,574.46 L293.14,574.68 L293.67,574.89 L294.21,575.11 L294.74,575.33 L295.27,575.54 L295.81,575.76 L296.34,575.97 L296.87,576.18 L297.41,576.40 L297.94,576.61 L298.48,576.82 L299.01,577.03 L299.54,577.24 L300.08,577.45 L300.61,577.66 L301.15,577.87 L301.68,578.07 L302.21,578.28 L302.75,578.49 L303.28,578.69 L303.81,578.90 L304.35,579.10 L304.88,579.31 L305.42,579.51 L305.95,579.72 L306.48,579.92 L307.02,580.12 L307.55,580.32 L308.09,580.52 L308.62,580.72 L309.15,580.92 L309.69,581.12 L310.22,581.32 L310.75,581.52 L311.29,581.72 L311.82,581.91 L312.36,582.11 L312.89,582.31 L313.42,582.50 L313.96,582.70 L314.49,582.89 L315.03,583.09 L315.56,583.28 L316.09,583.48 L316.63,583.67 L317.16,583.86 L317.70,584.05 L318.23,584.25 L318.76,584.44 L319.30,584.63 L319.83,584.82 L320.36,585.01 L320.90,585.20 L321.43,585.39 L321.97,585.58 L322.50,585.77" fill="none" stroke="#EB3F2C" stroke-width="2.0" stroke-linejoin="round"/>
<line x1="42.60" y1="470.80" x2="335.30" y2="470.80" stroke="#000" stroke-width="1.0" stroke-dasharray="2.75,2.33" stroke-opacity="0.58"/>
<line x1="130.40" y1="443.20" x2="130.40" y2="529.30" stroke="#111" stroke-width="1.0"/>
<path d="M127.80,526.50 L130.40,527.70 L133.00,526.50 L130.40,532.30 Z" fill="#111"/>
<text x="135.00" y="452.30" font-size="10.7" text-anchor="start" fill="#0a0a0a" stroke="#0a0a0a" stroke-width="0.25">BMI=26.3</text>
<line x1="42.60" y1="427.00" x2="42.60" y2="617.00" stroke="#222" stroke-width="1.0"/>
<line x1="42.60" y1="617.00" x2="335.30" y2="617.00" stroke="#222" stroke-width="1.0"/>
<line x1="40.60" y1="430.25" x2="42.60" y2="430.25" stroke="#333" stroke-width="0.8"/>
<text x="38.80" y="432.95" font-size="9.4" text-anchor="end" fill="#4D4D4D" stroke="#4D4D4D" stroke-width="0.25">1.25</text>
<line x1="40.60" y1="470.90" x2="42.60" y2="470.90" stroke="#333" stroke-width="0.8"/>
<text x="38.80" y="473.60" font-size="9.4" text-anchor="end" fill="#4D4D4D" stroke="#4D4D4D" stroke-width="0.25">1.00</text>
<line x1="40.60" y1="511.55" x2="42.60" y2="511.55" stroke="#333" stroke-width="0.8"/>
<text x="38.80" y="514.25" font-size="9.4" text-anchor="end" fill="#4D4D4D" stroke="#4D4D4D" stroke-width="0.25">0.75</text>
<line x1="40.60" y1="552.20" x2="42.60" y2="552.20" stroke="#333" stroke-width="0.8"/>
<text x="38.80" y="554.90" font-size="9.4" text-anchor="end" fill="#4D4D4D" stroke="#4D4D4D" stroke-width="0.25">0.50</text>
<line x1="40.60" y1="592.85" x2="42.60" y2="592.85" stroke="#333" stroke-width="0.8"/>
<text x="38.80" y="595.55" font-size="9.4" text-anchor="end" fill="#4D4D4D" stroke="#4D4D4D" stroke-width="0.25">0.25</text>
<line x1="91.30" y1="617.00" x2="91.30" y2="619.00" stroke="#333" stroke-width="0.8"/>
<text x="91.30" y="628.00" font-size="9.4" text-anchor="middle" fill="#4D4D4D" stroke="#4D4D4D" stroke-width="0.25">20</text>
<line x1="153.50" y1="617.00" x2="153.50" y2="619.00" stroke="#333" stroke-width="0.8"/>
<text x="153.50" y="628.00" font-size="9.4" text-anchor="middle" fill="#4D4D4D" stroke="#4D4D4D" stroke-width="0.25">30</text>
<line x1="215.70" y1="617.00" x2="215.70" y2="619.00" stroke="#333" stroke-width="0.8"/>
<text x="215.70" y="628.00" font-size="9.4" text-anchor="middle" fill="#4D4D4D" stroke="#4D4D4D" stroke-width="0.25">40</text>
<line x1="277.90" y1="617.00" x2="277.90" y2="619.00" stroke="#333" stroke-width="0.8"/>
<text x="277.90" y="628.00" font-size="9.4" text-anchor="middle" fill="#4D4D4D" stroke="#4D4D4D" stroke-width="0.25">50</text>
<text x="167.70" y="417.20" font-size="12.0" text-anchor="middle" font-weight="bold" fill="#0a0a0a" stroke="#0a0a0a" stroke-width="0.1">28–day Mortality</text>
<text x="186.70" y="638.40" font-size="11.0" text-anchor="middle" fill="#0d0d0d" stroke="#0d0d0d" stroke-width="0.25">BMI</text>
<text x="18.20" y="514.50" font-size="11.45" text-anchor="middle" fill="#0d0d0d" stroke="#0d0d0d" stroke-width="0.25" transform="rotate(-90 18.20 514.50)">OR(95%CI)</text>
<path d="M401.80,435.26 L402.34,436.14 L402.88,437.02 L403.42,437.89 L403.96,438.76 L404.50,439.62 L405.05,440.48 L405.59,441.34 L406.13,442.20 L406.67,443.05 L407.21,443.90 L407.75,444.74 L408.29,445.58 L408.83,446.42 L409.37,447.25 L409.91,448.09 L410.45,448.91 L410.99,449.74 L411.54,450.56 L412.08,451.38 L412.62,452.19 L413.16,453.00 L413.70,453.81 L414.24,454.61 L414.78,455.41 L415.32,456.21 L415.86,457.00 L416.40,457.79 L416.94,458.58 L417.49,459.36 L418.03,460.14 L418.57,460.92 L419.11,461.70 L419.65,462.46 L420.19,463.23 L420.73,463.99 L421.27,464.75 L421.81,465.51 L422.35,466.26 L422.89,467.01 L423.44,467.76 L423.98,468.50 L424.52,469.24 L425.06,469.98 L425.60,470.71 L426.14,471.44 L426.68,472.16 L427.22,472.89 L427.76,473.61 L428.30,474.32 L428.84,475.03 L429.38,475.74 L429.93,476.45 L430.47,477.15 L431.01,477.85 L431.55,478.54 L432.09,479.23 L432.63,479.92 L433.17,480.61 L433.71,481.29 L434.25,481.97 L434.79,482.64 L435.33,483.31 L435.88,483.98 L436.42,484.64 L436.96,485.30 L437.50,485.96 L438.04,486.61 L438.58,487.27 L439.12,487.91 L439.66,488.56 L440.20,489.20 L440.74,489.83 L441.28,490.47 L441.83,491.10 L442.37,491.72 L442.91,492.35 L443.45,492.97 L443.99,493.58 L444.53,494.19 L445.07,494.80 L445.61,495.41 L446.15,496.01 L446.69,496.61 L447.23,497.21 L447.77,497.80 L448.32,498.39 L448.86,498.97 L449.40,499.55 L449.94,500.13 L450.48,500.71 L451.02,501.28 L451.56,501.85 L452.10,502.41 L452.64,502.97 L453.18,503.53 L453.72,504.08 L454.27,504.64 L454.81,505.18 L455.35,505.73 L455.89,506.27 L456.43,506.80 L456.97,507.34 L457.51,507.87 L458.05,508.39 L458.59,508.92 L459.13,509.44 L459.67,509.95 L460.22,510.47 L460.76,510.98 L461.30,511.48 L461.84,511.98 L462.38,512.48 L462.92,512.98 L463.46,513.47 L464.00,513.96 L464.54,514.45 L465.08,514.93 L465.62,515.41 L466.16,515.88 L466.71,516.35 L467.25,516.82 L467.79,517.28 L468.33,517.75 L468.87,518.20 L469.41,518.66 L469.95,519.11 L470.49,519.55 L471.03,520.00 L471.57,520.44 L472.11,520.87 L472.66,521.31 L473.20,521.74 L473.74,522.16 L474.28,522.59 L474.82,523.01 L475.36,523.42 L475.90,523.83 L476.44,524.24 L476.98,524.55 L477.52,524.76 L478.06,524.96 L478.61,525.17 L479.15,525.37 L479.69,525.58 L480.23,525.78 L480.77,525.99 L481.31,526.19 L481.85,526.39 L482.39,526.59 L482.93,526.80 L483.47,527.00 L484.01,527.20 L484.55,527.40 L485.10,527.60 L485.64,527.80 L486.18,528.00 L486.72,528.20 L487.26,528.40 L487.80,528.59 L488.34,528.79 L488.88,528.99 L489.42,529.18 L489.96,529.38 L490.50,529.57 L491.05,529.77 L491.59,529.96 L492.13,530.16 L492.67,530.35 L493.21,530.54 L493.75,530.74 L494.29,530.93 L494.83,531.12 L495.37,531.31 L495.91,531.50 L496.45,531.69 L497.00,531.88 L497.54,532.07 L498.08,532.26 L498.62,532.45 L499.16,532.64 L499.70,532.82 L500.24,533.01 L500.78,533.20 L501.32,533.38 L501.86,533.57 L502.40,533.75 L502.94,533.94 L503.49,534.12 L504.03,534.31 L504.57,534.49 L505.11,534.67 L505.65,534.85 L506.19,535.03 L506.73,535.22 L507.27,535.40 L507.81,535.58 L508.35,535.76 L508.89,535.93 L509.44,536.11 L509.98,536.29 L510.52,536.47 L511.06,536.65 L511.60,536.82 L512.14,537.00 L512.68,537.17 L513.22,537.35 L513.76,537.52 L514.30,537.70 L514.84,537.87 L515.39,538.05 L515.93,538.22 L516.47,538.39 L517.01,538.56 L517.55,538.73 L518.09,538.90 L518.63,539.07 L519.17,539.24 L519.71,539.41 L520.25,539.58 L520.79,539.75 L521.33,539.92 L521.88,540.08 L522.42,540.25 L522.96,540.42 L523.50,540.58 L524.04,540.75 L524.58,540.91 L525.12,541.08 L525.66,541.24 L526.20,541.40 L526.74,541.56 L527.28,541.73 L527.83,541.89 L528.37,542.05 L528.91,542.21 L529.45,542.37 L529.99,542.53 L530.53,542.69 L531.07,542.85 L531.61,543.00 L532.15,543.16 L532.69,543.32 L533.23,543.47 L533.78,543.63 L534.32,543.79 L534.86,543.94 L535.40,544.09 L535.94,544.25 L536.48,544.40 L537.02,544.55 L537.56,544.71 L538.10,544.86 L538.64,545.01 L539.18,545.16 L539.72,545.31 L540.27,545.46 L540.81,545.61 L541.35,545.76 L541.89,545.91 L542.43,546.05 L542.97,546.20 L543.51,546.35 L544.05,546.49 L544.59,546.64 L545.13,546.78 L545.67,546.93 L546.22,547.07 L546.76,547.21 L547.30,547.36 L547.84,547.50 L548.38,547.64 L548.92,547.78 L549.46,547.92 L550.00,548.06 L550.54,548.20 L551.08,548.34 L551.62,548.48 L552.17,548.62 L552.71,548.75 L553.25,548.89 L553.79,549.03 L554.33,549.16 L554.87,549.30 L555.41,549.43 L555.95,549.57 L556.49,549.70 L557.03,549.83 L557.57,549.97 L558.11,550.10 L558.66,550.23 L559.20,550.36 L559.74,550.49 L560.28,550.62 L560.82,550.75 L561.36,550.88 L561.90,551.01 L562.44,551.13 L562.98,551.26 L563.52,551.39 L564.06,551.51 L564.61,551.64 L565.15,551.76 L565.69,551.89 L566.23,552.01 L566.77,552.13 L567.31,552.26 L567.85,552.38 L568.39,552.50 L568.93,552.62 L569.47,552.74 L570.01,552.86 L570.56,552.98 L571.10,553.10 L571.64,553.22 L572.18,553.34 L572.72,553.45 L573.26,553.57 L573.80,553.69 L574.34,553.80 L574.88,553.92 L575.42,554.03 L575.96,554.14 L576.50,554.26 L577.05,554.37 L577.59,554.48 L578.13,554.59 L578.67,554.71 L579.21,554.82 L579.75,554.93 L580.29,555.04 L580.83,555.15 L581.37,555.26 L581.91,555.36 L582.45,555.47 L583.00,555.58 L583.54,555.69 L584.08,555.79 L584.62,555.90 L585.16,556.01 L585.70,556.11 L586.24,556.22 L586.78,556.32 L587.32,556.43 L587.86,556.53 L588.40,556.63 L588.95,556.74 L589.49,556.84 L590.03,556.94 L590.57,557.04 L591.11,557.14 L591.65,557.24 L592.19,557.35 L592.73,557.45 L593.27,557.55 L593.81,557.65 L594.35,557.74 L594.89,557.84 L595.44,557.94 L595.98,558.04 L596.52,558.14 L597.06,558.24 L597.60,558.33 L598.14,558.43 L598.68,558.53 L599.22,558.62 L599.76,558.72 L600.30,558.81 L600.84,558.91 L601.39,559.01 L601.93,559.10 L602.47,559.19 L603.01,559.29 L603.55,559.38 L604.09,559.48 L604.63,559.57 L605.17,559.66 L605.71,559.76 L606.25,559.85 L606.79,559.94 L607.34,560.03 L607.88,560.13 L608.42,560.22 L608.96,560.31 L609.50,560.40 L610.04,560.49 L610.58,560.58 L611.12,560.67 L611.66,560.76 L612.20,560.86 L612.74,560.95 L613.28,561.04 L613.83,561.13 L614.37,561.21 L614.91,561.30 L615.45,561.39 L615.99,561.48 L616.53,561.57 L617.07,561.66 L617.61,561.75 L618.15,561.84 L618.69,561.93 L619.23,562.01 L619.78,562.10 L620.32,562.19 L620.86,562.28 L621.40,562.37 L621.94,562.45 L622.48,562.54 L623.02,562.63 L623.56,562.72 L624.10,562.81 L624.64,562.89 L625.18,562.98 L625.73,563.07 L626.27,563.15 L626.81,563.24 L627.35,563.33 L627.89,563.41 L628.43,563.50 L628.97,563.59 L629.51,563.68 L630.05,563.76 L630.59,563.85 L631.13,563.94 L631.67,564.02 L632.22,564.11 L632.76,564.20 L633.30,564.28 L633.84,564.37 L634.38,564.46 L634.92,564.54 L635.46,564.63 L636.00,564.72 L636.54,564.80 L637.08,564.89 L637.62,564.98 L638.17,565.06 L638.71,565.15 L639.25,565.24 L639.79,565.32 L640.33,565.41 L640.87,565.50 L641.41,565.59 L641.95,565.67 L642.49,565.76 L643.03,565.85 L643.57,565.94 L644.12,566.02 L644.66,566.11 L645.20,566.20 L645.74,566.29 L646.28,566.38 L646.82,566.46 L647.36,566.55 L647.90,566.64 L648.44,566.73 L648.98,566.82 L649.52,566.91 L650.06,567.00 L650.61,567.08 L651.15,567.17 L651.69,567.26 L652.23,567.35 L652.77,567.44 L653.31,567.53 L653.85,567.62 L654.39,567.71 L654.93,567.80 L655.47,567.89 L656.01,567.99 L656.56,568.08 L657.10,568.17 L657.64,568.26 L658.18,568.35 L658.72,568.44 L659.26,568.54 L659.80,568.63 L660.34,568.72 L660.88,568.81 L661.42,568.91 L661.96,569.00 L662.51,569.09 L663.05,569.19 L663.59,569.28 L664.13,569.38 L664.67,569.47 L665.21,569.57 L665.75,569.66 L666.29,569.76 L666.83,569.85 L667.37,569.95 L667.91,570.05 L668.45,570.14 L669.00,570.24 L669.54,570.34 L670.08,570.44 L670.62,570.53 L671.16,570.63 L671.70,570.73 L671.70,607.97 L671.16,607.85 L670.62,607.73 L670.08,607.61 L669.54,607.50 L669.00,607.38 L668.45,607.27 L667.91,607.15 L667.37,607.04 L666.83,606.92 L666.29,606.81 L665.75,606.69 L665.21,606.58 L664.67,606.47 L664.13,606.35 L663.59,606.24 L663.05,606.13 L662.51,606.02 L661.96,605.90 L661.42,605.79 L660.88,605.68 L660.34,605.57 L659.80,605.46 L659.26,605.35 L658.72,605.24 L658.18,605.13 L657.64,605.02 L657.10,604.90 L656.56,604.79 L656.01,604.68 L655.47,604.57 L654.93,604.46 L654.39,604.36 L653.85,604.25 L653.31,604.14 L652.77,604.03 L652.23,603.92 L651.69,603.81 L651.15,603.70 L650.61,603.59 L650.06,603.48 L649.52,603.37 L648.98,603.26 L648.44,603.15 L647.90,603.04 L647.36,602.93 L646.82,602.82 L646.28,602.71 L645.74,602.60 L645.20,602.49 L644.66,602.38 L644.12,602.27 L643.57,602.16 L643.03,602.05 L642.49,601.94 L641.95,601.83 L641.41,601.72 L640.87,601.60 L640.33,601.49 L639.79,601.38 L639.25,601.27 L638.71,601.16 L638.17,601.04 L637.62,600.93 L637.08,600.82 L636.54,600.71 L636.00,600.59 L635.46,600.48 L634.92,600.36 L634.38,600.25 L633.84,600.13 L633.30,600.02 L632.76,599.90 L632.22,599.79 L631.67,599.67 L631.13,599.55 L630.59,599.44 L630.05,599.32 L629.51,599.20 L628.97,599.08 L628.43,598.96 L627.89,598.84 L627.35,598.72 L626.81,598.60 L626.27,598.48 L625.73,598.36 L625.18,598.24 L624.64,598.11 L624.10,597.99 L623.56,597.87 L623.02,597.74 L622.48,597.62 L621.94,597.49 L621.40,597.36 L620.86,597.24 L620.32,597.11 L619.78,596.98 L619.23,596.85 L618.69,596.72 L618.15,596.59 L617.61,596.46 L617.07,596.33 L616.53,596.20 L615.99,596.07 L615.45,595.93 L614.91,595.80 L614.37,595.66 L613.83,595.53 L613.28,595.39 L612.74,595.25 L612.20,595.11 L611.66,594.97 L611.12,594.83 L610.58,594.69 L610.04,594.55 L609.50,594.41 L608.96,594.27 L608.42,594.12 L607.88,593.98 L607.34,593.83 L606.79,593.68 L606.25,593.53 L605.71,593.39 L605.17,593.24 L604.63,593.08 L604.09,592.93 L603.55,592.78 L603.01,592.63 L602.47,592.47 L601.93,592.32 L601.39,592.16 L600.84,592.00 L600.30,591.84 L599.76,591.68 L599.22,591.52 L598.68,591.36 L598.14,591.19 L597.60,591.03 L597.06,590.86 L596.52,590.70 L595.98,590.53 L595.44,590.36 L594.89,590.19 L594.35,590.02 L593.81,589.85 L593.27,589.67 L592.73,589.50 L592.19,589.32 L591.65,589.14 L591.11,588.96 L590.57,588.78 L590.03,588.60 L589.49,588.42 L588.95,588.24 L588.40,588.05 L587.86,587.87 L587.32,587.68 L586.78,587.49 L586.24,587.30 L585.70,587.11 L585.16,586.91 L584.62,586.72 L584.08,586.52 L583.54,586.32 L583.00,586.12 L582.45,585.92 L581.91,585.72 L581.37,585.52 L580.83,585.31 L580.29,585.11 L579.75,584.90 L579.21,584.69 L578.67,584.48 L578.13,584.27 L577.59,584.05 L577.05,583.84 L576.50,583.62 L575.96,583.40 L575.42,583.18 L574.88,582.96 L574.34,582.74 L573.80,582.51 L573.26,582.29 L572.72,582.06 L572.18,581.83 L571.64,581.60 L571.10,581.36 L570.56,581.13 L570.01,580.89 L569.47,580.66 L568.93,580.42 L568.39,580.17 L567.85,579.93 L567.31,579.69 L566.77,579.44 L566.23,579.19 L565.69,578.94 L565.15,578.69 L564.61,578.44 L564.06,578.18 L563.52,577.93 L562.98,577.67 L562.44,577.41 L561.90,577.15 L561.36,576.88 L560.82,576.62 L560.28,576.35 L559.74,576.09 L559.20,575.82 L558.66,575.55 L558.11,575.28 L557.57,575.00 L557.03,574.73 L556.49,574.45 L555.95,574.17 L555.41,573.89 L554.87,573.61 L554.33,573.33 L553.79,573.04 L553.25,572.76 L552.71,572.47 L552.17,572.18 L551.62,571.89 L551.08,571.60 L550.54,571.31 L550.00,571.01 L549.46,570.72 L548.92,570.42 L548.38,570.12 L547.84,569.82 L547.30,569.52 L546.76,569.22 L546.22,568.91 L545.67,568.61 L545.13,568.30 L544.59,567.99 L544.05,567.68 L543.51,567.37 L542.97,567.06 L542.43,566.75 L541.89,566.43 L541.35,566.11 L540.81,565.80 L540.27,565.48 L539.72,565.16 L539.18,564.84 L538.64,564.52 L538.10,564.19 L537.56,563.87 L537.02,563.54 L536.48,563.22 L535.94,562.89 L535.40,562.56 L534.86,562.23 L534.32,561.90 L533.78,561.57 L533.23,561.24 L532.69,560.91 L532.15,560.57 L531.61,560.24 L531.07,559.91 L530.53,559.57 L529.99,559.24 L529.45,558.90 L528.91,558.56 L528.37,558.22 L527.83,557.89 L527.28,557.55 L526.74,557.21 L526.20,556.87 L525.66,556.53 L525.12,556.19 L524.58,555.85 L524.04,555.50 L523.50,555.16 L522.96,554.82 L522.42,554.48 L521.88,554.14 L521.33,553.79 L520.79,553.45 L520.25,553.11 L519.71,552.76 L519.17,552.42 L518.63,552.08 L518.09,551.73 L517.55,551.39 L517.01,551.05 L516.47,550.70 L515.93,550.36 L515.39,550.02 L514.84,549.67 L514.30,549.33 L513.76,548.98 L513.22,548.64 L512.68,548.29 L512.14,547.95 L511.60,547.61 L511.06,547.26 L510.52,546.92 L509.98,546.57 L509.44,546.22 L508.89,545.88 L508.35,545.53 L507.81,545.19 L507.27,544.84 L506.73,544.49 L506.19,544.15 L505.65,543.80 L505.11,543.45 L504.57,543.10 L504.03,542.76 L503.49,542.41 L502.94,542.06 L502.40,541.71 L501.86,541.36 L501.32,541.01 L500.78,540.66 L500.24,540.31 L499.70,539.96 L499.16,539.60 L498.62,539.25 L498.08,538.90 L497.54,538.55 L497.00,538.19 L496.45,537.84 L495.91,537.48 L495.37,537.13 L494.83,536.77 L494.29,536.41 L493.75,536.06 L493.21,535.70 L492.67,535.34 L492.13,534.98 L491.59,534.62 L491.05,534.26 L490.50,533.90 L489.96,533.54 L489.42,533.18 L488.88,532.82 L488.34,532.45 L487.80,532.09 L487.26,531.72 L486.72,531.36 L486.18,530.99 L485.64,530.63 L485.10,530.26 L484.55,529.89 L484.01,529.52 L483.47,529.15 L482.93,528.78 L482.39,528.41 L481.85,528.03 L481.31,527.66 L480.77,527.29 L480.23,526.91 L479.69,526.53 L479.15,526.16 L478.61,525.78 L478.06,525.40 L477.52,525.02 L476.98,524.64 L476.44,524.47 L475.90,524.41 L475.36,524.37 L474.82,524.32 L474.28,524.28 L473.74,524.23 L473.20,524.20 L472.66,524.16 L472.11,524.12 L471.57,524.09 L471.03,524.06 L470.49,524.03 L469.95,524.01 L469.41,523.98 L468.87,523.96 L468.33,523.94 L467.79,523.92 L467.25,523.91 L466.71,523.90 L466.16,523.88 L465.62,523.87 L465.08,523.87 L464.54,523.86 L464.00,523.86 L463.46,523.85 L462.92,523.85 L462.38,523.85 L461.84,523.86 L461.30,523.86 L460.76,523.87 L460.22,523.87 L459.67,523.88 L459.13,523.89 L458.59,523.91 L458.05,523.92 L457.51,523.94 L456.97,523.95 L456.43,523.97 L455.89,523.99 L455.35,524.01 L454.81,524.04 L454.27,524.06 L453.72,524.09 L453.18,524.11 L452.64,524.14 L452.10,524.17 L451.56,524.20 L451.02,524.23 L450.48,524.26 L449.94,524.30 L449.40,524.33 L448.86,524.37 L448.32,524.41 L447.77,524.44 L447.23,524.48 L446.69,524.52 L446.15,524.56 L445.61,524.61 L445.07,524.65 L444.53,524.69 L443.99,524.74 L443.45,524.78 L442.91,524.83 L442.37,524.88 L441.83,524.92 L441.28,524.97 L440.74,525.02 L440.20,525.07 L439.66,525.12 L439.12,525.17 L438.58,525.22 L438.04,525.28 L437.50,525.33 L436.96,525.38 L436.42,525.43 L435.88,525.49 L435.33,525.54 L434.79,525.60 L434.25,525.65 L433.71,525.71 L433.17,525.76 L432.63,525.82 L432.09,525.88 L431.55,525.93 L431.01,525.99 L430.47,526.05 L429.93,526.10 L429.38,526.16 L428.84,526.22 L428.30,526.27 L427.76,526.33 L427.22,526.39 L426.68,526.45 L426.14,526.50 L425.60,526.56 L425.06,526.62 L424.52,526.67 L423.98,526.73 L423.44,526.79 L422.89,526.84 L422.35,526.90 L421.81,526.95 L421.27,527.01 L420.73,527.06 L420.19,527.12 L419.65,527.17 L419.11,527.23 L418.57,527.28 L418.03,527.33 L417.49,527.39 L416.94,527.44 L416.40,527.49 L415.86,527.54 L415.32,527.59 L414.78,527.64 L414.24,527.69 L413.70,527.74 L413.16,527.79 L412.62,527.83 L412.08,527.88 L411.54,527.93 L410.99,527.97 L410.45,528.02 L409.91,528.06 L409.37,528.10 L408.83,528.14 L408.29,528.18 L407.75,528.22 L407.21,528.26 L406.67,528.30 L406.13,528.33 L405.59,528.37 L405.05,528.40 L404.50,528.44 L403.96,528.47 L403.42,528.50 L402.88,528.53 L402.34,528.56 L401.80,528.58 Z" fill="#FBC1AC"/>
<path d="M401.80,490.40 L402.34,490.66 L402.88,490.92 L403.42,491.18 L403.96,491.44 L404.50,491.70 L405.05,491.96 L405.59,492.22 L406.13,492.48 L406.67,492.74 L407.21,492.99 L407.75,493.25 L408.29,493.51 L408.83,493.76 L409.37,494.02 L409.91,494.28 L410.45,494.53 L410.99,494.79 L411.54,495.04 L412.08,495.30 L412.62,495.55 L413.16,495.81 L413.70,496.06 L414.24,496.31 L414.78,496.57 L415.32,496.82 L415.86,497.07 L416.40,497.32 L416.94,497.58 L417.49,497.83 L418.03,498.08 L418.57,498.33 L419.11,498.58 L419.65,498.83 L420.19,499.08 L420.73,499.33 L421.27,499.58 L421.81,499.83 L422.35,500.08 L422.89,500.33 L423.44,500.58 L423.98,500.83 L424.52,501.08 L425.06,501.32 L425.60,501.57 L426.14,501.82 L426.68,502.07 L427.22,502.32 L427.76,502.56 L428.30,502.81 L428.84,503.06 L429.38,503.30 L429.93,503.55 L430.47,503.79 L431.01,504.04 L431.55,504.29 L432.09,504.53 L432.63,504.78 L433.17,505.02 L433.71,505.27 L434.25,505.51 L434.79,505.75 L435.33,506.00 L435.88,506.24 L436.42,506.49 L436.96,506.73 L437.50,506.97 L438.04,507.22 L438.58,507.46 L439.12,507.70 L439.66,507.95 L440.20,508.19 L440.74,508.43 L441.28,508.68 L441.83,508.92 L442.37,509.16 L442.91,509.40 L443.45,509.65 L443.99,509.89 L444.53,510.13 L445.07,510.37 L445.61,510.61 L446.15,510.86 L446.69,511.10 L447.23,511.34 L447.77,511.58 L448.32,511.82 L448.86,512.06 L449.40,512.30 L449.94,512.54 L450.48,512.79 L451.02,513.03 L451.56,513.27 L452.10,513.51 L452.64,513.75 L453.18,513.99 L453.72,514.23 L454.27,514.47 L454.81,514.71 L455.35,514.95 L455.89,515.19 L456.43,515.43 L456.97,515.67 L457.51,515.91 L458.05,516.15 L458.59,516.39 L459.13,516.64 L459.67,516.88 L460.22,517.12 L460.76,517.36 L461.30,517.60 L461.84,517.84 L462.38,518.08 L462.92,518.32 L463.46,518.56 L464.00,518.80 L464.54,519.04 L465.08,519.28 L465.62,519.52 L466.16,519.76 L466.71,520.00 L467.25,520.24 L467.79,520.48 L468.33,520.72 L468.87,520.96 L469.41,521.20 L469.95,521.44 L470.49,521.69 L471.03,521.93 L471.57,522.17 L472.11,522.41 L472.66,522.65 L473.20,522.89 L473.74,523.13 L474.28,523.37 L474.82,523.61 L475.36,523.86 L475.90,524.10 L476.44,524.34 L476.98,524.59 L477.52,524.89 L478.06,525.19 L478.61,525.48 L479.15,525.78 L479.69,526.08 L480.23,526.37 L480.77,526.67 L481.31,526.96 L481.85,527.26 L482.39,527.55 L482.93,527.85 L483.47,528.14 L484.01,528.43 L484.55,528.72 L485.10,529.01 L485.64,529.30 L486.18,529.59 L486.72,529.88 L487.26,530.17 L487.80,530.46 L488.34,530.75 L488.88,531.03 L489.42,531.32 L489.96,531.60 L490.50,531.89 L491.05,532.17 L491.59,532.46 L492.13,532.74 L492.67,533.02 L493.21,533.31 L493.75,533.59 L494.29,533.87 L494.83,534.15 L495.37,534.43 L495.91,534.71 L496.45,534.99 L497.00,535.27 L497.54,535.54 L498.08,535.82 L498.62,536.10 L499.16,536.37 L499.70,536.65 L500.24,536.92 L500.78,537.20 L501.32,537.47 L501.86,537.74 L502.40,538.02 L502.94,538.29 L503.49,538.56 L504.03,538.83 L504.57,539.10 L505.11,539.37 L505.65,539.64 L506.19,539.91 L506.73,540.17 L507.27,540.44 L507.81,540.71 L508.35,540.97 L508.89,541.24 L509.44,541.50 L509.98,541.77 L510.52,542.03 L511.06,542.30 L511.60,542.56 L512.14,542.82 L512.68,543.08 L513.22,543.34 L513.76,543.60 L514.30,543.86 L514.84,544.12 L515.39,544.38 L515.93,544.64 L516.47,544.90 L517.01,545.15 L517.55,545.41 L518.09,545.66 L518.63,545.92 L519.17,546.17 L519.71,546.43 L520.25,546.68 L520.79,546.93 L521.33,547.19 L521.88,547.44 L522.42,547.69 L522.96,547.94 L523.50,548.19 L524.04,548.44 L524.58,548.69 L525.12,548.94 L525.66,549.18 L526.20,549.43 L526.74,549.68 L527.28,549.92 L527.83,550.17 L528.37,550.41 L528.91,550.66 L529.45,550.90 L529.99,551.14 L530.53,551.38 L531.07,551.63 L531.61,551.87 L532.15,552.11 L532.69,552.35 L533.23,552.59 L533.78,552.83 L534.32,553.06 L534.86,553.30 L535.40,553.54 L535.94,553.78 L536.48,554.01 L537.02,554.25 L537.56,554.48 L538.10,554.72 L538.64,554.95 L539.18,555.18 L539.72,555.42 L540.27,555.65 L540.81,555.88 L541.35,556.11 L541.89,556.34 L542.43,556.57 L542.97,556.80 L543.51,557.03 L544.05,557.25 L544.59,557.48 L545.13,557.71 L545.67,557.93 L546.22,558.16 L546.76,558.38 L547.30,558.61 L547.84,558.83 L548.38,559.06 L548.92,559.28 L549.46,559.50 L550.00,559.72 L550.54,559.94 L551.08,560.16 L551.62,560.38 L552.17,560.60 L552.71,560.82 L553.25,561.04 L553.79,561.25 L554.33,561.47 L554.87,561.69 L555.41,561.90 L555.95,562.12 L556.49,562.33 L557.03,562.55 L557.57,562.76 L558.11,562.97 L558.66,563.18 L559.20,563.40 L559.74,563.61 L560.28,563.82 L560.82,564.03 L561.36,564.24 L561.90,564.44 L562.44,564.65 L562.98,564.86 L563.52,565.07 L564.06,565.27 L564.61,565.48 L565.15,565.68 L565.69,565.89 L566.23,566.09 L566.77,566.29 L567.31,566.50 L567.85,566.70 L568.39,566.90 L568.93,567.10 L569.47,567.30 L570.01,567.50 L570.56,567.70 L571.10,567.90 L571.64,568.10 L572.18,568.29 L572.72,568.49 L573.26,568.69 L573.80,568.88 L574.34,569.08 L574.88,569.27 L575.42,569.47 L575.96,569.66 L576.50,569.85 L577.05,570.05 L577.59,570.24 L578.13,570.43 L578.67,570.62 L579.21,570.81 L579.75,571.00 L580.29,571.19 L580.83,571.37 L581.37,571.56 L581.91,571.75 L582.45,571.93 L583.00,572.12 L583.54,572.30 L584.08,572.49 L584.62,572.67 L585.16,572.86 L585.70,573.04 L586.24,573.22 L586.78,573.40 L587.32,573.58 L587.86,573.76 L588.40,573.94 L588.95,574.12 L589.49,574.30 L590.03,574.48 L590.57,574.66 L591.11,574.83 L591.65,575.01 L592.19,575.19 L592.73,575.36 L593.27,575.54 L593.81,575.71 L594.35,575.88 L594.89,576.06 L595.44,576.23 L595.98,576.40 L596.52,576.57 L597.06,576.74 L597.60,576.91 L598.14,577.08 L598.68,577.25 L599.22,577.42 L599.76,577.58 L600.30,577.75 L600.84,577.92 L601.39,578.08 L601.93,578.25 L602.47,578.41 L603.01,578.58 L603.55,578.74 L604.09,578.90 L604.63,579.06 L605.17,579.22 L605.71,579.39 L606.25,579.55 L606.79,579.71 L607.34,579.86 L607.88,580.02 L608.42,580.18 L608.96,580.34 L609.50,580.50 L610.04,580.65 L610.58,580.81 L611.12,580.96 L611.66,581.12 L612.20,581.27 L612.74,581.42 L613.28,581.58 L613.83,581.73 L614.37,581.88 L614.91,582.03 L615.45,582.18 L615.99,582.33 L616.53,582.48 L617.07,582.63 L617.61,582.78 L618.15,582.92 L618.69,583.07 L619.23,583.22 L619.78,583.36 L620.32,583.51 L620.86,583.65 L621.40,583.79 L621.94,583.94 L622.48,584.08 L623.02,584.22 L623.56,584.36 L624.10,584.50 L624.64,584.64 L625.18,584.78 L625.73,584.92 L626.27,585.06 L626.81,585.20 L627.35,585.34 L627.89,585.47 L628.43,585.61 L628.97,585.74 L629.51,585.88 L630.05,586.01 L630.59,586.15 L631.13,586.28 L631.67,586.41 L632.22,586.54 L632.76,586.67 L633.30,586.81 L633.84,586.94 L634.38,587.06 L634.92,587.19 L635.46,587.32 L636.00,587.45 L636.54,587.58 L637.08,587.70 L637.62,587.83 L638.17,587.95 L638.71,588.08 L639.25,588.20 L639.79,588.33 L640.33,588.45 L640.87,588.57 L641.41,588.69 L641.95,588.81 L642.49,588.94 L643.03,589.06 L643.57,589.17 L644.12,589.29 L644.66,589.41 L645.20,589.53 L645.74,589.65 L646.28,589.76 L646.82,589.88 L647.36,589.99 L647.90,590.11 L648.44,590.22 L648.98,590.33 L649.52,590.45 L650.06,590.56 L650.61,590.67 L651.15,590.78 L651.69,590.89 L652.23,591.00 L652.77,591.11 L653.31,591.22 L653.85,591.33 L654.39,591.44 L654.93,591.54 L655.47,591.65 L656.01,591.75 L656.56,591.86 L657.10,591.96 L657.64,592.07 L658.18,592.17 L658.72,592.27 L659.26,592.38 L659.80,592.48 L660.34,592.58 L660.88,592.68 L661.42,592.78 L661.96,592.88 L662.51,592.97 L663.05,593.07 L663.59,593.17 L664.13,593.27 L664.67,593.36 L665.21,593.46 L665.75,593.55 L666.29,593.65 L666.83,593.74 L667.37,593.83 L667.91,593.93 L668.45,594.02 L669.00,594.11 L669.54,594.20 L670.08,594.29 L670.62,594.38 L671.16,594.47 L671.70,594.56" fill="none" stroke="#EB3F2C" stroke-width="2.0" stroke-linejoin="round"/>
<line x1="388.50" y1="524.80" x2="685.00" y2="524.80" stroke="#000" stroke-width="1.2" stroke-dasharray="2.75,2.33" stroke-opacity="0.5"/>
<line x1="476.80" y1="486.10" x2="476.80" y2="568.90" stroke="#666" stroke-width="1.0"/>
<path d="M474.20,566.10 L476.80,567.30 L479.40,566.10 L476.80,571.90 Z" fill="#111"/>
<text x="480.90" y="511.80" font-size="10.7" text-anchor="start" fill="#0a0a0a" stroke="#0a0a0a" stroke-width="0.25">BMI=26.3</text>
<line x1="388.50" y1="426.50" x2="388.50" y2="617.00" stroke="#222" stroke-width="1.0"/>
<line x1="388.50" y1="617.00" x2="685.00" y2="617.00" stroke="#222" stroke-width="1.0"/>
<line x1="386.50" y1="474.10" x2="388.50" y2="474.10" stroke="#333" stroke-width="0.8"/>
<text x="384.70" y="476.80" font-size="9.4" text-anchor="end" fill="#4D4D4D" stroke="#4D4D4D" stroke-width="0.25">1.5</text>
<line x1="386.50" y1="524.50" x2="388.50" y2="524.50" stroke="#333" stroke-width="0.8"/>
<text x="384.70" y="527.20" font-size="9.4" text-anchor="end" fill="#4D4D4D" stroke="#4D4D4D" stroke-width="0.25">1.0</text>
<line x1="386.50" y1="574.90" x2="388.50" y2="574.90" stroke="#333" stroke-width="0.8"/>
<text x="384.70" y="577.60" font-size="9.4" text-anchor="end" fill="#4D4D4D" stroke="#4D4D4D" stroke-width="0.25">0.5</text>
<line x1="437.40" y1="617.00" x2="437.40" y2="619.00" stroke="#333" stroke-width="0.8"/>
<text x="437.40" y="628.00" font-size="9.4" text-anchor="middle" fill="#4D4D4D" stroke="#4D4D4D" stroke-width="0.25">20</text>
<line x1="500.45" y1="617.00" x2="500.45" y2="619.00" stroke="#333" stroke-width="0.8"/>
<text x="500.45" y="628.00" font-size="9.4" text-anchor="middle" fill="#4D4D4D" stroke="#4D4D4D" stroke-width="0.25">30</text>
<line x1="563.50" y1="617.00" x2="563.50" y2="619.00" stroke="#333" stroke-width="0.8"/>
<text x="563.50" y="628.00" font-size="9.4" text-anchor="middle" fill="#4D4D4D" stroke="#4D4D4D" stroke-width="0.25">40</text>
<line x1="626.55" y1="617.00" x2="626.55" y2="619.00" stroke="#333" stroke-width="0.8"/>
<text x="626.55" y="628.00" font-size="9.4" text-anchor="middle" fill="#4D4D4D" stroke="#4D4D4D" stroke-width="0.25">50</text>
<text x="536.00" y="416.80" font-size="12.0" text-anchor="middle" font-weight="bold" fill="#0a0a0a" stroke="#0a0a0a" stroke-width="0.1">6–month Mortality</text>
<text x="539.40" y="638.40" font-size="11.0" text-anchor="middle" fill="#0d0d0d" stroke="#0d0d0d" stroke-width="0.25">BMI</text>
<text x="366.90" y="513.70" font-size="11.45" text-anchor="middle" fill="#0d0d0d" stroke="#0d0d0d" stroke-width="0.25" transform="rotate(-90 366.90 513.70)">OR(95%CI)</text>
<path d="M59.20,690.71 L59.74,691.84 L60.28,692.96 L60.82,694.08 L61.36,695.19 L61.90,696.30 L62.44,697.40 L62.98,698.50 L63.52,699.60 L64.06,700.69 L64.60,701.78 L65.14,702.86 L65.68,703.94 L66.22,705.01 L66.76,706.08 L67.30,707.15 L67.84,708.21 L68.38,709.26 L68.93,710.31 L69.47,711.36 L70.01,712.40 L70.55,713.44 L71.09,714.47 L71.63,715.50 L72.17,716.53 L72.71,717.55 L73.25,718.56 L73.79,719.57 L74.33,720.58 L74.87,721.58 L75.41,722.57 L75.95,723.56 L76.49,724.55 L77.03,725.53 L77.57,726.51 L78.11,727.48 L78.65,728.45 L79.19,729.41 L79.73,730.37 L80.27,731.32 L80.81,732.26 L81.35,733.21 L81.89,734.14 L82.43,735.08 L82.97,736.00 L83.51,736.93 L84.05,737.84 L84.59,738.76 L85.13,739.66 L85.67,740.56 L86.21,741.46 L86.75,742.35 L87.29,743.24 L87.83,744.12 L88.38,745.00 L88.92,745.87 L89.46,746.73 L90.00,747.59 L90.54,748.45 L91.08,749.30 L91.62,750.14 L92.16,750.98 L92.70,751.81 L93.24,752.64 L93.78,753.46 L94.32,754.28 L94.86,755.09 L95.40,755.90 L95.94,756.70 L96.48,757.49 L97.02,758.28 L97.56,759.07 L98.10,759.85 L98.64,760.62 L99.18,761.39 L99.72,762.15 L100.26,762.91 L100.80,763.66 L101.34,764.40 L101.88,765.14 L102.42,765.87 L102.96,766.60 L103.50,767.32 L104.04,768.04 L104.58,768.75 L105.12,769.45 L105.66,770.15 L106.20,770.84 L106.74,771.53 L107.28,772.21 L107.83,772.89 L108.37,773.56 L108.91,774.22 L109.45,774.88 L109.99,775.53 L110.53,776.17 L111.07,776.81 L111.61,777.44 L112.15,778.07 L112.69,778.69 L113.23,779.31 L113.77,779.91 L114.31,780.52 L114.85,781.11 L115.39,781.70 L115.93,782.29 L116.47,782.86 L117.01,783.44 L117.55,784.00 L118.09,784.56 L118.63,785.11 L119.17,785.66 L119.71,786.20 L120.25,786.73 L120.79,787.26 L121.33,787.78 L121.87,788.29 L122.41,788.80 L122.95,789.30 L123.49,789.80 L124.03,790.28 L124.57,790.76 L125.11,791.24 L125.65,791.71 L126.19,792.17 L126.74,792.63 L127.28,793.07 L127.82,793.52 L128.36,793.95 L128.90,794.38 L129.44,794.80 L129.98,795.22 L130.52,795.63 L131.06,796.03 L131.60,796.42 L132.14,796.81 L132.68,797.19 L133.22,797.57 L133.76,797.93 L134.30,798.22 L134.84,798.41 L135.38,798.59 L135.92,798.77 L136.46,798.94 L137.00,799.12 L137.54,799.30 L138.08,799.47 L138.62,799.65 L139.16,799.82 L139.70,799.99 L140.24,800.16 L140.78,800.33 L141.32,800.50 L141.86,800.67 L142.40,800.83 L142.94,801.00 L143.48,801.16 L144.02,801.32 L144.56,801.49 L145.10,801.65 L145.64,801.81 L146.19,801.97 L146.73,802.13 L147.27,802.28 L147.81,802.44 L148.35,802.59 L148.89,802.75 L149.43,802.90 L149.97,803.05 L150.51,803.20 L151.05,803.35 L151.59,803.50 L152.13,803.65 L152.67,803.80 L153.21,803.94 L153.75,804.09 L154.29,804.23 L154.83,804.37 L155.37,804.52 L155.91,804.66 L156.45,804.80 L156.99,804.94 L157.53,805.08 L158.07,805.21 L158.61,805.35 L159.15,805.49 L159.69,805.62 L160.23,805.75 L160.77,805.89 L161.31,806.02 L161.85,806.15 L162.39,806.28 L162.93,806.41 L163.47,806.54 L164.01,806.67 L164.55,806.79 L165.09,806.92 L165.64,807.04 L166.18,807.17 L166.72,807.29 L167.26,807.41 L167.80,807.53 L168.34,807.65 L168.88,807.77 L169.42,807.89 L169.96,808.01 L170.50,808.13 L171.04,808.25 L171.58,808.36 L172.12,808.48 L172.66,808.59 L173.20,808.70 L173.74,808.82 L174.28,808.93 L174.82,809.04 L175.36,809.15 L175.90,809.26 L176.44,809.37 L176.98,809.48 L177.52,809.58 L178.06,809.69 L178.60,809.79 L179.14,809.90 L179.68,810.00 L180.22,810.11 L180.76,810.21 L181.30,810.31 L181.84,810.41 L182.38,810.51 L182.92,810.61 L183.46,810.71 L184.00,810.81 L184.55,810.91 L185.09,811.01 L185.63,811.10 L186.17,811.20 L186.71,811.29 L187.25,811.39 L187.79,811.48 L188.33,811.57 L188.87,811.67 L189.41,811.76 L189.95,811.85 L190.49,811.94 L191.03,812.03 L191.57,812.12 L192.11,812.21 L192.65,812.29 L193.19,812.38 L193.73,812.47 L194.27,812.55 L194.81,812.64 L195.35,812.72 L195.89,812.81 L196.43,812.89 L196.97,812.97 L197.51,813.06 L198.05,813.14 L198.59,813.22 L199.13,813.30 L199.67,813.38 L200.21,813.46 L200.75,813.54 L201.29,813.62 L201.83,813.70 L202.37,813.77 L202.91,813.85 L203.45,813.93 L204.00,814.00 L204.54,814.08 L205.08,814.15 L205.62,814.23 L206.16,814.30 L206.70,814.37 L207.24,814.45 L207.78,814.52 L208.32,814.59 L208.86,814.66 L209.40,814.73 L209.94,814.80 L210.48,814.87 L211.02,814.94 L211.56,815.01 L212.10,815.08 L212.64,815.14 L213.18,815.21 L213.72,815.28 L214.26,815.35 L214.80,815.41 L215.34,815.48 L215.88,815.54 L216.42,815.61 L216.96,815.67 L217.50,815.74 L218.04,815.80 L218.58,815.86 L219.12,815.93 L219.66,815.99 L220.20,816.05 L220.74,816.11 L221.28,816.17 L221.82,816.23 L222.36,816.29 L222.91,816.35 L223.45,816.41 L223.99,816.47 L224.53,816.53 L225.07,816.59 L225.61,816.65 L226.15,816.71 L226.69,816.77 L227.23,816.82 L227.77,816.88 L228.31,816.94 L228.85,816.99 L229.39,817.05 L229.93,817.11 L230.47,817.16 L231.01,817.22 L231.55,817.27 L232.09,817.33 L232.63,817.38 L233.17,817.43 L233.71,817.49 L234.25,817.54 L234.79,817.60 L235.33,817.65 L235.87,817.70 L236.41,817.75 L236.95,817.81 L237.49,817.86 L238.03,817.91 L238.57,817.96 L239.11,818.01 L239.65,818.06 L240.19,818.12 L240.73,818.17 L241.27,818.22 L241.81,818.27 L242.36,818.32 L242.90,818.37 L243.44,818.42 L243.98,818.47 L244.52,818.52 L245.06,818.57 L245.60,818.61 L246.14,818.66 L246.68,818.71 L247.22,818.76 L247.76,818.81 L248.30,818.86 L248.84,818.91 L249.38,818.95 L249.92,819.00 L250.46,819.05 L251.00,819.10 L251.54,819.14 L252.08,819.19 L252.62,819.24 L253.16,819.29 L253.70,819.33 L254.24,819.38 L254.78,819.43 L255.32,819.47 L255.86,819.52 L256.40,819.57 L256.94,819.61 L257.48,819.66 L258.02,819.71 L258.56,819.75 L259.10,819.80 L259.64,819.85 L260.18,819.89 L260.72,819.94 L261.26,819.99 L261.81,820.03 L262.35,820.08 L262.89,820.13 L263.43,820.17 L263.97,820.22 L264.51,820.26 L265.05,820.31 L265.59,820.36 L266.13,820.40 L266.67,820.45 L267.21,820.49 L267.75,820.54 L268.29,820.59 L268.83,820.63 L269.37,820.68 L269.91,820.73 L270.45,820.77 L270.99,820.82 L271.53,820.87 L272.07,820.91 L272.61,820.96 L273.15,821.01 L273.69,821.05 L274.23,821.10 L274.77,821.15 L275.31,821.19 L275.85,821.24 L276.39,821.29 L276.93,821.34 L277.47,821.38 L278.01,821.43 L278.55,821.48 L279.09,821.53 L279.63,821.58 L280.17,821.62 L280.72,821.67 L281.26,821.72 L281.80,821.77 L282.34,821.82 L282.88,821.87 L283.42,821.92 L283.96,821.96 L284.50,822.01 L285.04,822.06 L285.58,822.11 L286.12,822.16 L286.66,822.21 L287.20,822.26 L287.74,822.31 L288.28,822.37 L288.82,822.42 L289.36,822.47 L289.90,822.52 L290.44,822.57 L290.98,822.62 L291.52,822.67 L292.06,822.73 L292.60,822.78 L293.14,822.83 L293.68,822.88 L294.22,822.94 L294.76,822.99 L295.30,823.05 L295.84,823.10 L296.38,823.15 L296.92,823.21 L297.46,823.26 L298.00,823.32 L298.54,823.37 L299.08,823.43 L299.62,823.49 L300.17,823.54 L300.71,823.60 L301.25,823.66 L301.79,823.71 L302.33,823.77 L302.87,823.83 L303.41,823.89 L303.95,823.95 L304.49,824.01 L305.03,824.06 L305.57,824.12 L306.11,824.18 L306.65,824.24 L307.19,824.31 L307.73,824.37 L308.27,824.43 L308.81,824.49 L309.35,824.55 L309.89,824.62 L310.43,824.68 L310.97,824.74 L311.51,824.81 L312.05,824.87 L312.59,824.94 L313.13,825.00 L313.67,825.07 L314.21,825.13 L314.75,825.20 L315.29,825.27 L315.83,825.33 L316.37,825.40 L316.91,825.47 L317.45,825.54 L317.99,825.61 L318.53,825.68 L319.07,825.75 L319.62,825.82 L320.16,825.89 L320.70,825.96 L321.24,826.03 L321.78,826.10 L322.32,826.18 L322.86,826.25 L323.40,826.33 L323.94,826.40 L324.48,826.48 L325.02,826.55 L325.56,826.63 L326.10,826.70 L326.64,826.78 L327.18,826.86 L327.72,826.94 L328.26,827.02 L328.80,827.10 L328.80,862.82 L328.26,862.75 L327.72,862.68 L327.18,862.61 L326.64,862.54 L326.10,862.46 L325.56,862.39 L325.02,862.32 L324.48,862.24 L323.94,862.17 L323.40,862.10 L322.86,862.02 L322.32,861.95 L321.78,861.87 L321.24,861.79 L320.70,861.72 L320.16,861.64 L319.62,861.56 L319.07,861.49 L318.53,861.41 L317.99,861.33 L317.45,861.25 L316.91,861.17 L316.37,861.09 L315.83,861.01 L315.29,860.93 L314.75,860.85 L314.21,860.77 L313.67,860.69 L313.13,860.61 L312.59,860.53 L312.05,860.44 L311.51,860.36 L310.97,860.28 L310.43,860.19 L309.89,860.11 L309.35,860.02 L308.81,859.94 L308.27,859.85 L307.73,859.77 L307.19,859.68 L306.65,859.59 L306.11,859.50 L305.57,859.42 L305.03,859.33 L304.49,859.24 L303.95,859.15 L303.41,859.06 L302.87,858.97 L302.33,858.88 L301.79,858.79 L301.25,858.70 L300.71,858.60 L300.17,858.51 L299.62,858.42 L299.08,858.32 L298.54,858.23 L298.00,858.14 L297.46,858.04 L296.92,857.95 L296.38,857.85 L295.84,857.75 L295.30,857.66 L294.76,857.56 L294.22,857.46 L293.68,857.36 L293.14,857.27 L292.60,857.17 L292.06,857.07 L291.52,856.97 L290.98,856.87 L290.44,856.76 L289.90,856.66 L289.36,856.56 L288.82,856.46 L288.28,856.35 L287.74,856.25 L287.20,856.15 L286.66,856.04 L286.12,855.94 L285.58,855.83 L285.04,855.72 L284.50,855.62 L283.96,855.51 L283.42,855.40 L282.88,855.29 L282.34,855.18 L281.80,855.08 L281.26,854.97 L280.72,854.85 L280.17,854.74 L279.63,854.63 L279.09,854.52 L278.55,854.41 L278.01,854.29 L277.47,854.18 L276.93,854.07 L276.39,853.95 L275.85,853.83 L275.31,853.72 L274.77,853.60 L274.23,853.48 L273.69,853.37 L273.15,853.25 L272.61,853.13 L272.07,853.01 L271.53,852.89 L270.99,852.77 L270.45,852.65 L269.91,852.53 L269.37,852.40 L268.83,852.28 L268.29,852.16 L267.75,852.03 L267.21,851.91 L266.67,851.78 L266.13,851.66 L265.59,851.53 L265.05,851.41 L264.51,851.28 L263.97,851.15 L263.43,851.02 L262.89,850.89 L262.35,850.76 L261.81,850.63 L261.26,850.50 L260.72,850.37 L260.18,850.23 L259.64,850.10 L259.10,849.97 L258.56,849.83 L258.02,849.70 L257.48,849.56 L256.94,849.43 L256.40,849.29 L255.86,849.15 L255.32,849.01 L254.78,848.88 L254.24,848.74 L253.70,848.60 L253.16,848.46 L252.62,848.31 L252.08,848.17 L251.54,848.03 L251.00,847.89 L250.46,847.74 L249.92,847.60 L249.38,847.45 L248.84,847.31 L248.30,847.16 L247.76,847.01 L247.22,846.87 L246.68,846.72 L246.14,846.57 L245.60,846.42 L245.06,846.27 L244.52,846.12 L243.98,845.97 L243.44,845.81 L242.90,845.66 L242.36,845.51 L241.81,845.35 L241.27,845.20 L240.73,845.04 L240.19,844.88 L239.65,844.73 L239.11,844.57 L238.57,844.41 L238.03,844.25 L237.49,844.09 L236.95,843.93 L236.41,843.77 L235.87,843.61 L235.33,843.44 L234.79,843.28 L234.25,843.11 L233.71,842.95 L233.17,842.78 L232.63,842.62 L232.09,842.45 L231.55,842.28 L231.01,842.11 L230.47,841.94 L229.93,841.77 L229.39,841.60 L228.85,841.43 L228.31,841.26 L227.77,841.09 L227.23,840.91 L226.69,840.74 L226.15,840.56 L225.61,840.39 L225.07,840.21 L224.53,840.03 L223.99,839.85 L223.45,839.68 L222.91,839.50 L222.36,839.32 L221.82,839.13 L221.28,838.95 L220.74,838.77 L220.20,838.59 L219.66,838.40 L219.12,838.22 L218.58,838.03 L218.04,837.84 L217.50,837.66 L216.96,837.47 L216.42,837.28 L215.88,837.09 L215.34,836.90 L214.80,836.71 L214.26,836.52 L213.72,836.32 L213.18,836.13 L212.64,835.94 L212.10,835.74 L211.56,835.54 L211.02,835.35 L210.48,835.15 L209.94,834.95 L209.40,834.75 L208.86,834.55 L208.32,834.35 L207.78,834.15 L207.24,833.95 L206.70,833.74 L206.16,833.54 L205.62,833.33 L205.08,833.13 L204.54,832.92 L204.00,832.71 L203.45,832.51 L202.91,832.30 L202.37,832.09 L201.83,831.88 L201.29,831.67 L200.75,831.45 L200.21,831.24 L199.67,831.03 L199.13,830.81 L198.59,830.59 L198.05,830.38 L197.51,830.16 L196.97,829.94 L196.43,829.72 L195.89,829.50 L195.35,829.28 L194.81,829.06 L194.27,828.84 L193.73,828.61 L193.19,828.39 L192.65,828.17 L192.11,827.94 L191.57,827.71 L191.03,827.48 L190.49,827.26 L189.95,827.03 L189.41,826.80 L188.87,826.56 L188.33,826.33 L187.79,826.10 L187.25,825.87 L186.71,825.63 L186.17,825.39 L185.63,825.16 L185.09,824.92 L184.55,824.68 L184.00,824.44 L183.46,824.20 L182.92,823.96 L182.38,823.72 L181.84,823.48 L181.30,823.23 L180.76,822.99 L180.22,822.74 L179.68,822.50 L179.14,822.25 L178.60,822.00 L178.06,821.75 L177.52,821.50 L176.98,821.25 L176.44,821.00 L175.90,820.74 L175.36,820.49 L174.82,820.23 L174.28,819.98 L173.74,819.72 L173.20,819.46 L172.66,819.21 L172.12,818.95 L171.58,818.69 L171.04,818.42 L170.50,818.16 L169.96,817.90 L169.42,817.63 L168.88,817.37 L168.34,817.10 L167.80,816.83 L167.26,816.57 L166.72,816.30 L166.18,816.03 L165.64,815.76 L165.09,815.48 L164.55,815.21 L164.01,814.94 L163.47,814.66 L162.93,814.39 L162.39,814.11 L161.85,813.83 L161.31,813.55 L160.77,813.27 L160.23,812.99 L159.69,812.71 L159.15,812.43 L158.61,812.14 L158.07,811.86 L157.53,811.57 L156.99,811.28 L156.45,811.00 L155.91,810.71 L155.37,810.42 L154.83,810.13 L154.29,809.83 L153.75,809.54 L153.21,809.25 L152.67,808.95 L152.13,808.66 L151.59,808.36 L151.05,808.06 L150.51,807.76 L149.97,807.46 L149.43,807.16 L148.89,806.86 L148.35,806.56 L147.81,806.25 L147.27,805.95 L146.73,805.64 L146.19,805.33 L145.64,805.02 L145.10,804.71 L144.56,804.40 L144.02,804.09 L143.48,803.78 L142.94,803.47 L142.40,803.15 L141.86,802.84 L141.32,802.52 L140.78,802.20 L140.24,801.88 L139.70,801.56 L139.16,801.24 L138.62,800.92 L138.08,800.60 L137.54,800.27 L137.00,799.95 L136.46,799.62 L135.92,799.29 L135.38,798.96 L134.84,798.63 L134.30,798.30 L133.76,798.04 L133.22,797.91 L132.68,797.77 L132.14,797.64 L131.60,797.51 L131.06,797.38 L130.52,797.25 L129.98,797.13 L129.44,797.01 L128.90,796.88 L128.36,796.76 L127.82,796.64 L127.28,796.53 L126.74,796.41 L126.19,796.29 L125.65,796.18 L125.11,796.07 L124.57,795.96 L124.03,795.85 L123.49,795.74 L122.95,795.63 L122.41,795.53 L121.87,795.42 L121.33,795.32 L120.79,795.22 L120.25,795.12 L119.71,795.02 L119.17,794.92 L118.63,794.82 L118.09,794.73 L117.55,794.63 L117.01,794.54 L116.47,794.45 L115.93,794.36 L115.39,794.26 L114.85,794.18 L114.31,794.09 L113.77,794.00 L113.23,793.91 L112.69,793.83 L112.15,793.74 L111.61,793.66 L111.07,793.58 L110.53,793.50 L109.99,793.42 L109.45,793.34 L108.91,793.26 L108.37,793.18 L107.83,793.10 L107.28,793.02 L106.74,792.95 L106.20,792.87 L105.66,792.80 L105.12,792.72 L104.58,792.65 L104.04,792.58 L103.50,792.51 L102.96,792.43 L102.42,792.36 L101.88,792.29 L101.34,792.22 L100.80,792.16 L100.26,792.09 L99.72,792.02 L99.18,791.95 L98.64,791.89 L98.10,791.82 L97.56,791.75 L97.02,791.69 L96.48,791.62 L95.94,791.56 L95.40,791.49 L94.86,791.43 L94.32,791.36 L93.78,791.30 L93.24,791.24 L92.70,791.18 L92.16,791.11 L91.62,791.05 L91.08,790.99 L90.54,790.93 L90.00,790.86 L89.46,790.80 L88.92,790.74 L88.38,790.68 L87.83,790.62 L87.29,790.56 L86.75,790.50 L86.21,790.43 L85.67,790.37 L85.13,790.31 L84.59,790.25 L84.05,790.19 L83.51,790.13 L82.97,790.07 L82.43,790.01 L81.89,789.94 L81.35,789.88 L80.81,789.82 L80.27,789.76 L79.73,789.70 L79.19,789.63 L78.65,789.57 L78.11,789.51 L77.57,789.45 L77.03,789.38 L76.49,789.32 L75.95,789.26 L75.41,789.19 L74.87,789.13 L74.33,789.06 L73.79,789.00 L73.25,788.93 L72.71,788.87 L72.17,788.80 L71.63,788.73 L71.09,788.66 L70.55,788.60 L70.01,788.53 L69.47,788.46 L68.93,788.39 L68.38,788.32 L67.84,788.25 L67.30,788.18 L66.76,788.10 L66.22,788.03 L65.68,787.96 L65.14,787.88 L64.60,787.81 L64.06,787.73 L63.52,787.66 L62.98,787.58 L62.44,787.50 L61.90,787.42 L61.36,787.35 L60.82,787.26 L60.28,787.18 L59.74,787.10 L59.20,787.02 Z" fill="#FBC1AC"/>
<path d="M59.20,747.67 L59.74,748.10 L60.28,748.52 L60.82,748.95 L61.36,749.37 L61.90,749.79 L62.44,750.22 L62.98,750.64 L63.52,751.07 L64.06,751.49 L64.60,751.91 L65.14,752.34 L65.68,752.76 L66.22,753.18 L66.76,753.60 L67.30,754.02 L67.84,754.45 L68.38,754.87 L68.93,755.29 L69.47,755.71 L70.01,756.13 L70.55,756.55 L71.09,756.97 L71.63,757.39 L72.17,757.80 L72.71,758.22 L73.25,758.64 L73.79,759.05 L74.33,759.47 L74.87,759.89 L75.41,760.30 L75.95,760.72 L76.49,761.13 L77.03,761.54 L77.57,761.95 L78.11,762.37 L78.65,762.78 L79.19,763.19 L79.73,763.60 L80.27,764.01 L80.81,764.41 L81.35,764.82 L81.89,765.23 L82.43,765.63 L82.97,766.04 L83.51,766.44 L84.05,766.85 L84.59,767.25 L85.13,767.65 L85.67,768.05 L86.21,768.45 L86.75,768.85 L87.29,769.25 L87.83,769.64 L88.38,770.04 L88.92,770.43 L89.46,770.83 L90.00,771.22 L90.54,771.61 L91.08,772.00 L91.62,772.39 L92.16,772.78 L92.70,773.17 L93.24,773.55 L93.78,773.94 L94.32,774.32 L94.86,774.70 L95.40,775.09 L95.94,775.47 L96.48,775.84 L97.02,776.22 L97.56,776.60 L98.10,776.97 L98.64,777.35 L99.18,777.72 L99.72,778.09 L100.26,778.46 L100.80,778.83 L101.34,779.20 L101.88,779.56 L102.42,779.92 L102.96,780.29 L103.50,780.65 L104.04,781.01 L104.58,781.37 L105.12,781.72 L105.66,782.08 L106.20,782.43 L106.74,782.78 L107.28,783.13 L107.83,783.48 L108.37,783.83 L108.91,784.17 L109.45,784.52 L109.99,784.86 L110.53,785.20 L111.07,785.54 L111.61,785.88 L112.15,786.21 L112.69,786.54 L113.23,786.88 L113.77,787.20 L114.31,787.53 L114.85,787.86 L115.39,788.18 L115.93,788.51 L116.47,788.83 L117.01,789.14 L117.55,789.46 L118.09,789.78 L118.63,790.09 L119.17,790.40 L119.71,790.71 L120.25,791.02 L120.79,791.32 L121.33,791.62 L121.87,791.92 L122.41,792.22 L122.95,792.52 L123.49,792.81 L124.03,793.11 L124.57,793.40 L125.11,793.68 L125.65,793.97 L126.19,794.25 L126.74,794.54 L127.28,794.81 L127.82,795.09 L128.36,795.37 L128.90,795.64 L129.44,795.91 L129.98,796.18 L130.52,796.44 L131.06,796.71 L131.60,796.97 L132.14,797.22 L132.68,797.48 L133.22,797.73 L133.76,797.99 L134.30,798.28 L134.84,798.54 L135.38,798.80 L135.92,799.06 L136.46,799.31 L137.00,799.57 L137.54,799.82 L138.08,800.08 L138.62,800.33 L139.16,800.58 L139.70,800.83 L140.24,801.08 L140.78,801.33 L141.32,801.57 L141.86,801.82 L142.40,802.06 L142.94,802.31 L143.48,802.55 L144.02,802.79 L144.56,803.03 L145.10,803.27 L145.64,803.51 L146.19,803.75 L146.73,803.98 L147.27,804.22 L147.81,804.45 L148.35,804.69 L148.89,804.92 L149.43,805.15 L149.97,805.38 L150.51,805.61 L151.05,805.84 L151.59,806.07 L152.13,806.29 L152.67,806.52 L153.21,806.74 L153.75,806.97 L154.29,807.19 L154.83,807.41 L155.37,807.63 L155.91,807.85 L156.45,808.07 L156.99,808.29 L157.53,808.50 L158.07,808.72 L158.61,808.93 L159.15,809.15 L159.69,809.36 L160.23,809.57 L160.77,809.78 L161.31,809.99 L161.85,810.20 L162.39,810.41 L162.93,810.62 L163.47,810.83 L164.01,811.03 L164.55,811.24 L165.09,811.44 L165.64,811.64 L166.18,811.85 L166.72,812.05 L167.26,812.25 L167.80,812.45 L168.34,812.64 L168.88,812.84 L169.42,813.04 L169.96,813.24 L170.50,813.43 L171.04,813.62 L171.58,813.82 L172.12,814.01 L172.66,814.20 L173.20,814.39 L173.74,814.58 L174.28,814.77 L174.82,814.96 L175.36,815.15 L175.90,815.34 L176.44,815.52 L176.98,815.71 L177.52,815.89 L178.06,816.07 L178.60,816.26 L179.14,816.44 L179.68,816.62 L180.22,816.80 L180.76,816.98 L181.30,817.16 L181.84,817.34 L182.38,817.51 L182.92,817.69 L183.46,817.87 L184.00,818.04 L184.55,818.22 L185.09,818.39 L185.63,818.56 L186.17,818.73 L186.71,818.91 L187.25,819.08 L187.79,819.25 L188.33,819.42 L188.87,819.58 L189.41,819.75 L189.95,819.92 L190.49,820.08 L191.03,820.25 L191.57,820.41 L192.11,820.58 L192.65,820.74 L193.19,820.90 L193.73,821.07 L194.27,821.23 L194.81,821.39 L195.35,821.55 L195.89,821.71 L196.43,821.87 L196.97,822.02 L197.51,822.18 L198.05,822.34 L198.59,822.49 L199.13,822.65 L199.67,822.80 L200.21,822.96 L200.75,823.11 L201.29,823.26 L201.83,823.42 L202.37,823.57 L202.91,823.72 L203.45,823.87 L204.00,824.02 L204.54,824.17 L205.08,824.32 L205.62,824.46 L206.16,824.61 L206.70,824.76 L207.24,824.90 L207.78,825.05 L208.32,825.19 L208.86,825.34 L209.40,825.48 L209.94,825.63 L210.48,825.77 L211.02,825.91 L211.56,826.05 L212.10,826.19 L212.64,826.33 L213.18,826.47 L213.72,826.61 L214.26,826.75 L214.80,826.89 L215.34,827.03 L215.88,827.16 L216.42,827.30 L216.96,827.44 L217.50,827.57 L218.04,827.71 L218.58,827.84 L219.12,827.97 L219.66,828.11 L220.20,828.24 L220.74,828.37 L221.28,828.51 L221.82,828.64 L222.36,828.77 L222.91,828.90 L223.45,829.03 L223.99,829.16 L224.53,829.29 L225.07,829.42 L225.61,829.54 L226.15,829.67 L226.69,829.80 L227.23,829.93 L227.77,830.05 L228.31,830.18 L228.85,830.30 L229.39,830.43 L229.93,830.55 L230.47,830.68 L231.01,830.80 L231.55,830.92 L232.09,831.05 L232.63,831.17 L233.17,831.29 L233.71,831.41 L234.25,831.54 L234.79,831.66 L235.33,831.78 L235.87,831.90 L236.41,832.02 L236.95,832.14 L237.49,832.25 L238.03,832.37 L238.57,832.49 L239.11,832.61 L239.65,832.73 L240.19,832.84 L240.73,832.96 L241.27,833.08 L241.81,833.19 L242.36,833.31 L242.90,833.42 L243.44,833.54 L243.98,833.65 L244.52,833.77 L245.06,833.88 L245.60,834.00 L246.14,834.11 L246.68,834.22 L247.22,834.34 L247.76,834.45 L248.30,834.56 L248.84,834.67 L249.38,834.78 L249.92,834.90 L250.46,835.01 L251.00,835.12 L251.54,835.23 L252.08,835.34 L252.62,835.45 L253.16,835.56 L253.70,835.67 L254.24,835.78 L254.78,835.89 L255.32,835.99 L255.86,836.10 L256.40,836.21 L256.94,836.32 L257.48,836.43 L258.02,836.53 L258.56,836.64 L259.10,836.75 L259.64,836.86 L260.18,836.96 L260.72,837.07 L261.26,837.17 L261.81,837.28 L262.35,837.39 L262.89,837.49 L263.43,837.60 L263.97,837.70 L264.51,837.81 L265.05,837.91 L265.59,838.02 L266.13,838.12 L266.67,838.23 L267.21,838.33 L267.75,838.43 L268.29,838.54 L268.83,838.64 L269.37,838.75 L269.91,838.85 L270.45,838.95 L270.99,839.06 L271.53,839.16 L272.07,839.26 L272.61,839.36 L273.15,839.47 L273.69,839.57 L274.23,839.67 L274.77,839.77 L275.31,839.88 L275.85,839.98 L276.39,840.08 L276.93,840.18 L277.47,840.28 L278.01,840.38 L278.55,840.49 L279.09,840.59 L279.63,840.69 L280.17,840.79 L280.72,840.89 L281.26,840.99 L281.80,841.09 L282.34,841.20 L282.88,841.30 L283.42,841.40 L283.96,841.50 L284.50,841.60 L285.04,841.70 L285.58,841.80 L286.12,841.90 L286.66,842.00 L287.20,842.10 L287.74,842.20 L288.28,842.31 L288.82,842.41 L289.36,842.51 L289.90,842.61 L290.44,842.71 L290.98,842.81 L291.52,842.91 L292.06,843.01 L292.60,843.11 L293.14,843.21 L293.68,843.31 L294.22,843.41 L294.76,843.51 L295.30,843.62 L295.84,843.72 L296.38,843.82 L296.92,843.92 L297.46,844.02 L298.00,844.12 L298.54,844.22 L299.08,844.32 L299.62,844.42 L300.17,844.53 L300.71,844.63 L301.25,844.73 L301.79,844.83 L302.33,844.93 L302.87,845.03 L303.41,845.14 L303.95,845.24 L304.49,845.34 L305.03,845.44 L305.57,845.54 L306.11,845.65 L306.65,845.75 L307.19,845.85 L307.73,845.95 L308.27,846.06 L308.81,846.16 L309.35,846.26 L309.89,846.37 L310.43,846.47 L310.97,846.57 L311.51,846.68 L312.05,846.78 L312.59,846.89 L313.13,846.99 L313.67,847.09 L314.21,847.20 L314.75,847.30 L315.29,847.41 L315.83,847.51 L316.37,847.62 L316.91,847.72 L317.45,847.83 L317.99,847.94 L318.53,848.04 L319.07,848.15 L319.62,848.25 L320.16,848.36 L320.70,848.47 L321.24,848.58 L321.78,848.68 L322.32,848.79 L322.86,848.90 L323.40,849.01 L323.94,849.11 L324.48,849.22 L325.02,849.33 L325.56,849.44 L326.10,849.55 L326.64,849.66 L327.18,849.77 L327.72,849.88 L328.26,849.99 L328.80,850.10" fill="none" stroke="#EB3F2C" stroke-width="2.0" stroke-linejoin="round"/>
<line x1="45.80" y1="798.50" x2="341.90" y2="798.50" stroke="#000" stroke-width="1.0" stroke-dasharray="3.2,1.9" stroke-opacity="0.85"/>
<line x1="134.00" y1="746.60" x2="134.00" y2="837.00" stroke="#7a7a7a" stroke-width="1.0"/>
<path d="M131.40,834.20 L134.00,835.40 L136.60,834.20 L134.00,840.00 Z" fill="#111"/>
<text x="138.00" y="781.90" font-size="10.7" text-anchor="start" fill="#0a0a0a" stroke="#0a0a0a" stroke-width="0.25">BMI=26.3</text>
<line x1="45.80" y1="682.00" x2="45.80" y2="871.50" stroke="#222" stroke-width="1.0"/>
<line x1="45.80" y1="871.50" x2="341.90" y2="871.50" stroke="#222" stroke-width="1.0"/>
<line x1="43.80" y1="715.90" x2="45.80" y2="715.90" stroke="#333" stroke-width="0.8"/>
<text x="42.00" y="718.60" font-size="9.4" text-anchor="end" fill="#4D4D4D" stroke="#4D4D4D" stroke-width="0.25">2.0</text>
<line x1="43.80" y1="757.05" x2="45.80" y2="757.05" stroke="#333" stroke-width="0.8"/>
<text x="42.00" y="759.75" font-size="9.4" text-anchor="end" fill="#4D4D4D" stroke="#4D4D4D" stroke-width="0.25">1.5</text>
<line x1="43.80" y1="798.20" x2="45.80" y2="798.20" stroke="#333" stroke-width="0.8"/>
<text x="42.00" y="800.90" font-size="9.4" text-anchor="end" fill="#4D4D4D" stroke="#4D4D4D" stroke-width="0.25">1.0</text>
<line x1="43.80" y1="839.35" x2="45.80" y2="839.35" stroke="#333" stroke-width="0.8"/>
<text x="42.00" y="842.05" font-size="9.4" text-anchor="end" fill="#4D4D4D" stroke="#4D4D4D" stroke-width="0.25">0.5</text>
<line x1="94.30" y1="871.50" x2="94.30" y2="873.50" stroke="#333" stroke-width="0.8"/>
<text x="94.30" y="882.50" font-size="9.4" text-anchor="middle" fill="#4D4D4D" stroke="#4D4D4D" stroke-width="0.25">20</text>
<line x1="157.20" y1="871.50" x2="157.20" y2="873.50" stroke="#333" stroke-width="0.8"/>
<text x="157.20" y="882.50" font-size="9.4" text-anchor="middle" fill="#4D4D4D" stroke="#4D4D4D" stroke-width="0.25">30</text>
<line x1="220.10" y1="871.50" x2="220.10" y2="873.50" stroke="#333" stroke-width="0.8"/>
<text x="220.10" y="882.50" font-size="9.4" text-anchor="middle" fill="#4D4D4D" stroke="#4D4D4D" stroke-width="0.25">40</text>
<line x1="283.00" y1="871.50" x2="283.00" y2="873.50" stroke="#333" stroke-width="0.8"/>
<text x="283.00" y="882.50" font-size="9.4" text-anchor="middle" fill="#4D4D4D" stroke="#4D4D4D" stroke-width="0.25">50</text>
<text x="169.20" y="677.80" font-size="12.0" text-anchor="middle" font-weight="bold" fill="#0a0a0a" stroke="#0a0a0a" stroke-width="0.1">1–year Mortality</text>
<text x="197.00" y="893.50" font-size="11.0" text-anchor="middle" fill="#0d0d0d" stroke="#0d0d0d" stroke-width="0.25">BMI</text>
<text x="25.60" y="769.20" font-size="11.45" text-anchor="middle" fill="#0d0d0d" stroke="#0d0d0d" stroke-width="0.25" transform="rotate(-90 25.60 769.20)">OR(95%CI)</text>
</svg>
</body></html>
